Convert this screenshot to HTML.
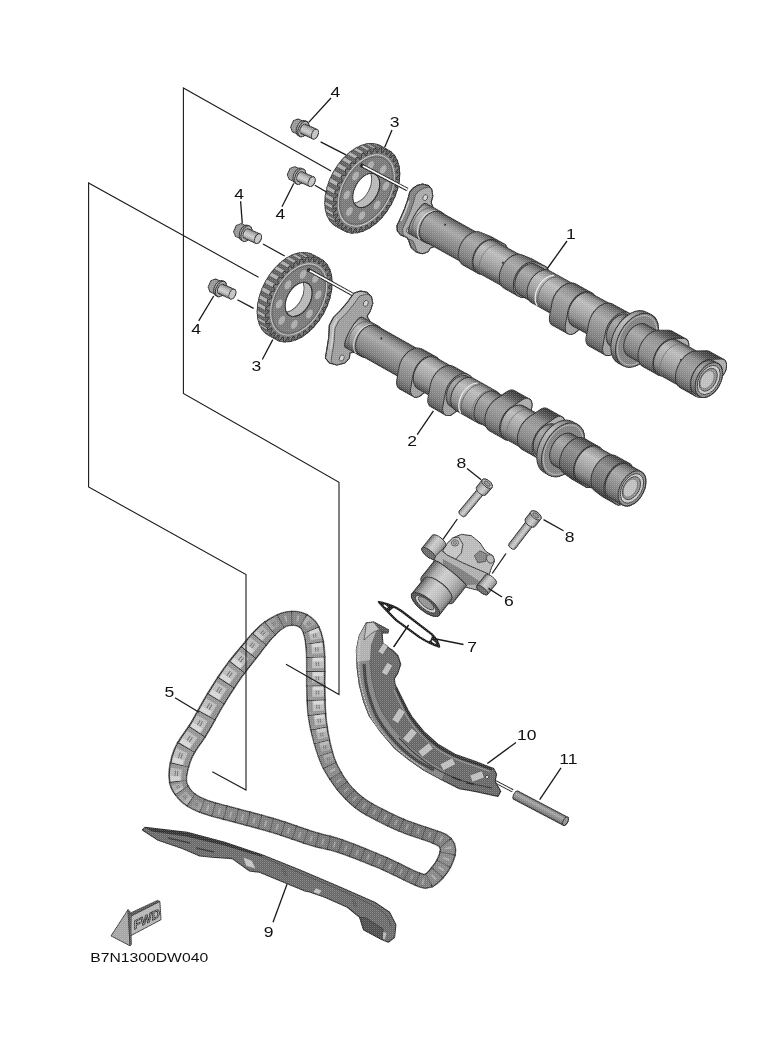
<!DOCTYPE html>
<html><head><meta charset="utf-8"><title>B7N1300DW040</title>
<style>html,body{margin:0;padding:0;background:#fff}svg{display:block}text{font-family:"Liberation Sans",sans-serif;fill:#111}</style>
</head><body>
<svg width="770" height="1064" viewBox="0 0 770 1064">
<defs>
<linearGradient id="cyl" x1="0" y1="0" x2="0" y2="1">
<stop offset="0" stop-color="#383838"/><stop offset="0.06" stop-color="#626262"/><stop offset="0.2" stop-color="#8f8f8f"/><stop offset="0.36" stop-color="#a4a4a4"/>
<stop offset="0.56" stop-color="#8f8f8f"/><stop offset="0.8" stop-color="#797979"/><stop offset="0.95" stop-color="#585858"/><stop offset="1" stop-color="#333"/>
</linearGradient>
<linearGradient id="cylL" x1="0" y1="0" x2="0" y2="1">
<stop offset="0" stop-color="#4c4c4c"/><stop offset="0.1" stop-color="#8e8e8e"/><stop offset="0.3" stop-color="#bababa"/>
<stop offset="0.55" stop-color="#a4a4a4"/><stop offset="0.8" stop-color="#848484"/><stop offset="1" stop-color="#3c3c3c"/>
</linearGradient>
<linearGradient id="cylD" x1="0" y1="0" x2="0" y2="1">
<stop offset="0" stop-color="#333"/><stop offset="0.15" stop-color="#6a6a6a"/><stop offset="0.35" stop-color="#8a8a8a"/>
<stop offset="0.6" stop-color="#777"/><stop offset="0.85" stop-color="#585858"/><stop offset="1" stop-color="#2a2a2a"/>
</linearGradient>
<linearGradient id="cylLL" x1="0" y1="0" x2="0" y2="1">
<stop offset="0" stop-color="#5a5a5a"/><stop offset="0.1" stop-color="#8e8e8e"/><stop offset="0.35" stop-color="#b8b8b8"/>
<stop offset="0.6" stop-color="#cacaca"/><stop offset="0.82" stop-color="#a5a5a5"/><stop offset="1" stop-color="#555"/>
</linearGradient>
<linearGradient id="cylT" x1="0" y1="0" x2="0" y2="1">
<stop offset="0" stop-color="#2e2e2e"/><stop offset="0.16" stop-color="#555"/><stop offset="0.3" stop-color="#8a8a8a"/>
<stop offset="0.5" stop-color="#999"/><stop offset="0.78" stop-color="#808080"/><stop offset="0.94" stop-color="#5a5a5a"/><stop offset="1" stop-color="#333"/>
</linearGradient>
<pattern id="ht" width="2" height="2" patternUnits="userSpaceOnUse"><rect width="2" height="2" fill="#000"/><rect x="0" y="0" width="1" height="1" fill="#3c3c3c"/><rect x="1" y="1" width="1" height="1" fill="#141414"/></pattern>
<pattern id="dots" width="3" height="3" patternUnits="userSpaceOnUse"><rect x="0" y="0" width="1" height="1" fill="#fff" fill-opacity="0.35"/><rect x="2" y="1" width="1" height="1" fill="#000" fill-opacity="0.12"/></pattern>
</defs>
<rect width="770" height="1064" fill="#fff"/>
<polygon points="409.7,192.1 412.9,188.2 417.5,185.3 422.7,184 428.5,185.6 431.8,189.5 432.8,196 431.1,202.5 434,210 438,245 430.5,248 427.9,251.8 422.7,253.8 416.2,252.1 411,247.3 408.8,240.8 407.1,237.5 400.6,234.9 397.3,231 396.9,225.8 399.9,219.4 404.5,209 407.7,199.9" fill="#7d7d7d" stroke="#2b2b2b" stroke-width="1" stroke-linejoin="round" />
<clipPath id="fc1"><polygon points="409.7,192.1 412.9,188.2 417.5,185.3 422.7,184 428.5,185.6 431.8,189.5 432.8,196 431.1,202.5 434,210 438,245 430.5,248 427.9,251.8 422.7,253.8 416.2,252.1 411,247.3 408.8,240.8 407.1,237.5 400.6,234.9 397.3,231 396.9,225.8 399.9,219.4 404.5,209 407.7,199.9"/></clipPath>
<g clip-path="url(#fc1)">
<polygon points="415.3,195.2 418.5,191.3 423.1,188.4 428.3,187.1 434.1,188.7 437.4,192.6 438.4,199.1 436.7,205.6 439.6,213.1 443.6,248.1 436.1,251.1 433.5,254.9 428.3,256.9 421.8,255.2 416.6,250.4 414.4,243.9 412.7,240.6 406.2,238 402.9,234.1 402.5,228.9 405.5,222.5 410.1,212.1 413.3,203" fill="#a6a6a6" stroke="#3a3a3a" stroke-width="0.8" stroke-linejoin="round" />
</g>
<polygon points="409.7,192.1 412.9,188.2 417.5,185.3 422.7,184 428.5,185.6 431.8,189.5 432.8,196 431.1,202.5 434,210 438,245 430.5,248 427.9,251.8 422.7,253.8 416.2,252.1 411,247.3 408.8,240.8 407.1,237.5 400.6,234.9 397.3,231 396.9,225.8 399.9,219.4 404.5,209 407.7,199.9" fill="none" stroke="#2b2b2b" stroke-width="1.1" stroke-linejoin="round" />
<ellipse cx="425.2" cy="197.6" rx="2.3" ry="3.2" fill="#cfcfcf" stroke="#3a3a3a" stroke-width="0.8" transform="rotate(24 425.2 197.6)"/>
<ellipse cx="409" cy="230" rx="2.3" ry="3.2" fill="#cfcfcf" stroke="#3a3a3a" stroke-width="0.8" transform="rotate(24 409 230)"/>
<path d="M401,221 L405.5,211 L409,201" stroke="#c8c8c8" stroke-width="1.6" fill="none"/>
<g transform="translate(708.8 380) rotate(29)">
<g transform="scale(1 0.882)">
<path d="M-333,-19.6 L-315,-19.6 A12.2,19.6 0 0 1 -315,19.6 L-333,19.6 A4.3,19.6 0 0 1 -333,-19.6 Z" fill="url(#cylL)" stroke="#2b2b2b" stroke-width="1" stroke-linejoin="round"/>
<path d="M-327,-17.6 A12.2,19.6 0 0 0 -327,19.6" fill="none" stroke="#555" stroke-width="0.8"/>
<path d="M-321,-17.6 A12.2,19.6 0 0 0 -321,19.6" fill="none" stroke="#d8d8d8" stroke-width="1"/>
</g>
<g transform="scale(1 0.894)">
<path d="M-316,-18.6 L-268,-18.6 A11.5,18.6 0 0 1 -268,18.6 L-316,18.6 A11.5,18.6 0 0 1 -316,-18.6 Z" fill="url(#cyl)" stroke="#2b2b2b" stroke-width="1" stroke-linejoin="round"/>
</g>
<g transform="scale(1 0.891)">
<ellipse cx="-306" cy="-9" rx="1" ry="1.2" fill="#222" stroke="none" stroke-width="0" />
</g>
<g transform="scale(1 0.905)">
<polygon points="-282.8,-0 -282.7,-2.7 -282.3,-5.3 -281.8,-7.9 -281.1,-10.3 -280.1,-12.5 -279,-14.6 -277.8,-16.3 -276.4,-17.8 -274.9,-19 -273.3,-19.9 -271.7,-20.4 -261.8,-21.7 -260.9,-21.8 -244.9,-21.8 -243.9,-21.7 -243,-21.4 -242.1,-20.9 -241.3,-20.3 -240.5,-19.4 -239.8,-18.5 -239.2,-17.3 -238.7,-16.1 -238.3,-14.7 -238,-13.3 -237.8,-11.8 -237.7,-10.3 -237.8,-8.8 -238,-7.3 -238.3,-5.9 -242.2,7.9 -242.9,10.3 -243.9,12.5 -245,14.6 -246.2,16.3 -247.6,17.8 -249.1,19 -250.7,19.9 -252.3,20.4 -254,20.6 -270,20.6 -271.7,20.4 -273.3,19.9 -274.9,19 -276.4,17.8 -277.8,16.3 -279,14.6 -280.1,12.5 -281.1,10.3 -281.8,7.9 -282.3,5.3 -282.7,2.7" fill="url(#cyl)" stroke="#2b2b2b" stroke-width="1" stroke-linejoin="round" />
<polygon points="-244.9,-21.8 -245.8,-21.7 -255.7,-20.4 -257.3,-19.9 -258.9,-19 -260.4,-17.8 -261.8,-16.3 -263,-14.6 -264.1,-12.5 -265.1,-10.3 -265.8,-7.9 -266.3,-5.3 -266.7,-2.7 -266.8,-0 -266.7,2.7 -266.3,5.3 -265.8,7.9 -265.1,10.3 -264.1,12.5 -263,14.6 -261.8,16.3 -260.4,17.8 -258.9,19 -257.3,19.9 -255.7,20.4 -254,20.6 -252.3,20.4 -250.7,19.9 -249.1,19 -247.6,17.8 -246.2,16.3 -245,14.6 -243.9,12.5 -242.9,10.3 -242.2,7.9 -238.3,-5.9 -238,-7.3 -237.8,-8.8 -237.7,-10.3 -237.8,-11.8 -238,-13.3 -238.3,-14.7 -238.7,-16.1 -239.2,-17.3 -239.8,-18.5 -240.5,-19.4 -241.3,-20.3 -242.1,-20.9 -243,-21.4 -243.9,-21.7" fill="#8d8d8d" stroke="#2b2b2b" stroke-width="1" stroke-linejoin="round" />
</g>
<g transform="scale(1 0.914)">
<path d="M-254,-19.6 L-221,-19.6 A12.2,19.6 0 0 1 -221,19.6 L-254,19.6 A12.2,19.6 0 0 1 -254,-19.6 Z" fill="url(#cylL)" stroke="#2b2b2b" stroke-width="1" stroke-linejoin="round"/>
<path d="M-250,-17.6 A12.2,19.6 0 0 0 -250,19.6" fill="none" stroke="#666" stroke-width="0.7"/>
<ellipse cx="-237" cy="-3" rx="1" ry="1.2" fill="#222" stroke="none" stroke-width="0" />
</g>
<g transform="scale(1 0.922)">
<polygon points="-235.8,-0 -235.7,-2.7 -235.3,-5.3 -234.8,-7.9 -234.1,-10.3 -233.1,-12.5 -232,-14.6 -230.8,-16.3 -229.4,-17.8 -227.9,-19 -226.3,-19.9 -224.7,-20.4 -214.8,-21.7 -213.9,-21.8 -197.9,-21.8 -196.9,-21.7 -196,-21.4 -195.1,-20.9 -194.3,-20.3 -193.5,-19.4 -192.8,-18.5 -192.2,-17.3 -191.7,-16.1 -191.3,-14.7 -191,-13.3 -190.8,-11.8 -190.7,-10.3 -190.8,-8.8 -191,-7.3 -191.3,-5.9 -195.2,7.9 -195.9,10.3 -196.9,12.5 -198,14.6 -199.2,16.3 -200.6,17.8 -202.1,19 -203.7,19.9 -205.3,20.4 -207,20.6 -223,20.6 -224.7,20.4 -226.3,19.9 -227.9,19 -229.4,17.8 -230.8,16.3 -232,14.6 -233.1,12.5 -234.1,10.3 -234.8,7.9 -235.3,5.3 -235.7,2.7" fill="url(#cyl)" stroke="#2b2b2b" stroke-width="1" stroke-linejoin="round" />
<polygon points="-197.9,-21.8 -198.8,-21.7 -208.7,-20.4 -210.3,-19.9 -211.9,-19 -213.4,-17.8 -214.8,-16.3 -216,-14.6 -217.1,-12.5 -218.1,-10.3 -218.8,-7.9 -219.3,-5.3 -219.7,-2.7 -219.8,-0 -219.7,2.7 -219.3,5.3 -218.8,7.9 -218.1,10.3 -217.1,12.5 -216,14.6 -214.8,16.3 -213.4,17.8 -211.9,19 -210.3,19.9 -208.7,20.4 -207,20.6 -205.3,20.4 -203.7,19.9 -202.1,19 -200.6,17.8 -199.2,16.3 -198,14.6 -196.9,12.5 -195.9,10.3 -195.2,7.9 -191.3,-5.9 -191,-7.3 -190.8,-8.8 -190.7,-10.3 -190.8,-11.8 -191,-13.3 -191.3,-14.7 -191.7,-16.1 -192.2,-17.3 -192.8,-18.5 -193.5,-19.4 -194.3,-20.3 -195.1,-20.9 -196,-21.4 -196.9,-21.7" fill="#8d8d8d" stroke="#2b2b2b" stroke-width="1" stroke-linejoin="round" />
</g>
<g transform="scale(1 0.927)">
<path d="M-207,-18.6 L-192,-18.6 A11.5,18.6 0 0 1 -192,18.6 L-207,18.6 A11.5,18.6 0 0 1 -207,-18.6 Z" fill="url(#cyl)" stroke="#2b2b2b" stroke-width="1" stroke-linejoin="round"/>
</g>
<g transform="scale(1 0.935)">
<path d="M-192,-19.6 L-163,-19.6 A12.2,19.6 0 0 1 -163,19.6 L-192,19.6 A12.2,19.6 0 0 1 -192,-19.6 Z" fill="url(#cylL)" stroke="#2b2b2b" stroke-width="1" stroke-linejoin="round"/>
<path d="M-186,-17.6 A12.2,19.6 0 0 0 -186,19.6" fill="none" stroke="#e8e8e8" stroke-width="1.2"/>
<path d="M-183,-17.6 A12.2,19.6 0 0 0 -183,19.6" fill="none" stroke="#555" stroke-width="0.8"/>
<path d="M-168,-17.6 A12.2,19.6 0 0 0 -168,19.6" fill="none" stroke="#666" stroke-width="0.7"/>
</g>
<g transform="scale(1 0.944)">
<polygon points="-175.8,-0 -175.7,-2.7 -175.3,-5.3 -174.8,-7.9 -174.1,-10.3 -173.1,-12.5 -172,-14.6 -170.8,-16.3 -169.4,-17.8 -167.9,-19 -166.3,-19.9 -164.7,-20.4 -163,-20.6 -145,-20.6 -143.3,-20.4 -141.7,-19.9 -140.1,-19 -138.6,-17.8 -137.2,-16.3 -136,-14.6 -134.9,-12.5 -133.9,-10.3 -133.2,-7.9 -132.7,-5.3 -132.3,-2.7 -132.2,0 -132.3,2.7 -132.7,5.3 -133.2,7.9 -133.9,10.3 -139.4,23.7 -139.9,25 -140.5,26.1 -141.2,27.1 -142,27.9 -142.9,28.6 -143.7,29.1 -144.7,29.4 -145.6,29.5 -163.6,29.5 -164.5,29.4 -165.4,29.1 -166.3,28.6 -167.1,27.9 -167.9,27.1 -168.6,26.1 -169.2,25 -169.8,23.7 -174.1,10.3 -174.8,7.9 -175.3,5.3 -175.7,2.7" fill="url(#cyl)" stroke="#2b2b2b" stroke-width="1" stroke-linejoin="round" />
<polygon points="-145,-20.6 -146.7,-20.4 -148.3,-19.9 -149.9,-19 -151.4,-17.8 -152.8,-16.3 -154,-14.6 -155.1,-12.5 -156.1,-10.3 -156.8,-7.9 -157.3,-5.3 -157.7,-2.7 -157.8,-0 -157.7,2.7 -157.3,5.3 -156.8,7.9 -156.1,10.3 -151.8,23.7 -151.2,25 -150.6,26.1 -149.9,27.1 -149.1,27.9 -148.3,28.6 -147.4,29.1 -146.5,29.4 -145.6,29.5 -144.7,29.4 -143.7,29.1 -142.9,28.6 -142,27.9 -141.2,27.1 -140.5,26.1 -139.9,25 -139.4,23.7 -133.9,10.3 -133.2,7.9 -132.7,5.3 -132.3,2.7 -132.2,0 -132.3,-2.7 -132.7,-5.3 -133.2,-7.9 -133.9,-10.3 -134.9,-12.5 -136,-14.6 -137.2,-16.3 -138.6,-17.8 -140.1,-19 -141.7,-19.9 -143.3,-20.4" fill="#9c9c9c" stroke="#2b2b2b" stroke-width="1" stroke-linejoin="round" />
</g>
<g transform="scale(1 0.952)">
<path d="M-145,-19.6 L-121,-19.6 A12.2,19.6 0 0 1 -121,19.6 L-145,19.6 A12.2,19.6 0 0 1 -145,-19.6 Z" fill="url(#cylL)" stroke="#2b2b2b" stroke-width="1" stroke-linejoin="round"/>
<ellipse cx="-133" cy="-4" rx="1" ry="1.2" fill="#222" stroke="none" stroke-width="0" />
</g>
<g transform="scale(1 0.959)">
<polygon points="-133.8,-0 -133.7,-2.7 -133.3,-5.3 -132.8,-7.9 -132.1,-10.3 -131.1,-12.5 -130,-14.6 -128.8,-16.3 -127.4,-17.8 -125.9,-19 -124.3,-19.9 -122.7,-20.4 -121,-20.6 -102,-20.6 -100.3,-20.4 -98.7,-19.9 -97.1,-19 -95.6,-17.8 -94.2,-16.3 -93,-14.6 -91.9,-12.5 -90.9,-10.3 -90.2,-7.9 -89.7,-5.3 -89.3,-2.7 -89.2,0 -89.3,2.7 -89.7,5.3 -90.2,7.9 -90.9,10.3 -96.4,23.7 -96.9,25 -97.5,26.1 -98.2,27.1 -99,27.9 -99.9,28.6 -100.7,29.1 -101.7,29.4 -102.6,29.5 -121.6,29.5 -122.5,29.4 -123.4,29.1 -124.3,28.6 -125.1,27.9 -125.9,27.1 -126.6,26.1 -127.2,25 -127.8,23.7 -132.1,10.3 -132.8,7.9 -133.3,5.3 -133.7,2.7" fill="url(#cyl)" stroke="#2b2b2b" stroke-width="1" stroke-linejoin="round" />
<polygon points="-102,-20.6 -103.7,-20.4 -105.3,-19.9 -106.9,-19 -108.4,-17.8 -109.8,-16.3 -111,-14.6 -112.1,-12.5 -113.1,-10.3 -113.8,-7.9 -114.3,-5.3 -114.7,-2.7 -114.8,-0 -114.7,2.7 -114.3,5.3 -113.8,7.9 -113.1,10.3 -108.8,23.7 -108.2,25 -107.6,26.1 -106.9,27.1 -106.1,27.9 -105.3,28.6 -104.4,29.1 -103.5,29.4 -102.6,29.5 -101.7,29.4 -100.7,29.1 -99.9,28.6 -99,27.9 -98.2,27.1 -97.5,26.1 -96.9,25 -96.4,23.7 -90.9,10.3 -90.2,7.9 -89.7,5.3 -89.3,2.7 -89.2,0 -89.3,-2.7 -89.7,-5.3 -90.2,-7.9 -90.9,-10.3 -91.9,-12.5 -93,-14.6 -94.2,-16.3 -95.6,-17.8 -97.1,-19 -98.7,-19.9 -100.3,-20.4" fill="#9c9c9c" stroke="#2b2b2b" stroke-width="1" stroke-linejoin="round" />
</g>
<g transform="scale(1 0.966)">
<path d="M-102,-18.6 L-86,-18.6 A11.5,18.6 0 0 1 -86,18.6 L-102,18.6 A11.5,18.6 0 0 1 -102,-18.6 Z" fill="url(#cyl)" stroke="#2b2b2b" stroke-width="1" stroke-linejoin="round"/>
</g>
<g transform="scale(1 0.970)">
<path d="M-87.5,-30 L-82,-30 A18.6,30 0 0 1 -82,30 L-87.5,30 A18.6,30 0 0 1 -87.5,-30 Z" fill="url(#cylL)" stroke="#2b2b2b" stroke-width="1" stroke-linejoin="round"/>
<ellipse cx="-82" cy="0" rx="18.6" ry="30" fill="#7d7d7d" stroke="#2b2b2b" stroke-width="1" />
<ellipse cx="-82" cy="0" rx="17.1" ry="27.5" fill="none" stroke="#b8b8b8" stroke-width="0.8" />
</g>
<g transform="scale(1 0.974)">
<path d="M-82,-18.6 L-62,-18.6 A11.5,18.6 0 0 1 -62,18.6 L-82,18.6 A11.5,18.6 0 0 1 -82,-18.6 Z" fill="url(#cyl)" stroke="#2b2b2b" stroke-width="1" stroke-linejoin="round"/>
</g>
<g transform="scale(1 0.980)">
<polygon points="-76.8,-0 -76.7,-2.7 -76.3,-5.3 -75.8,-7.9 -75.1,-10.3 -74.1,-12.5 -73,-14.6 -71.8,-16.3 -70.4,-17.8 -68.9,-19 -59.6,-24.4 -58.7,-24.9 -57.8,-25.2 -56.8,-25.3 -39.8,-25.3 -38.9,-25.2 -38,-24.9 -37.1,-24.4 -36.3,-23.7 -35.5,-22.9 -34.8,-21.9 -34.2,-20.8 -33.7,-19.5 -33.2,-18.2 -32.9,-16.8 -32.8,-15.3 -32.7,-13.8 -32.8,-12.3 -34.3,2.7 -34.7,5.3 -35.2,7.9 -35.9,10.3 -36.9,12.5 -38,14.6 -39.2,16.3 -40.6,17.8 -42.1,19 -43.7,19.9 -45.3,20.4 -47,20.6 -64,20.6 -65.7,20.4 -67.3,19.9 -68.9,19 -70.4,17.8 -71.8,16.3 -73,14.6 -74.1,12.5 -75.1,10.3 -75.8,7.9 -76.3,5.3 -76.7,2.7" fill="url(#cylT)" stroke="#2b2b2b" stroke-width="1" stroke-linejoin="round" />
<polygon points="-39.8,-25.3 -40.8,-25.2 -41.7,-24.9 -42.6,-24.4 -51.9,-19 -53.4,-17.8 -54.8,-16.3 -56,-14.6 -57.1,-12.5 -58.1,-10.3 -58.8,-7.9 -59.3,-5.3 -59.7,-2.7 -59.8,-0 -59.7,2.7 -59.3,5.3 -58.8,7.9 -58.1,10.3 -57.1,12.5 -56,14.6 -54.8,16.3 -53.4,17.8 -51.9,19 -50.3,19.9 -48.7,20.4 -47,20.6 -45.3,20.4 -43.7,19.9 -42.1,19 -40.6,17.8 -39.2,16.3 -38,14.6 -36.9,12.5 -35.9,10.3 -35.2,7.9 -34.7,5.3 -34.3,2.7 -32.8,-12.3 -32.7,-13.8 -32.8,-15.3 -32.9,-16.8 -33.2,-18.2 -33.7,-19.5 -34.2,-20.8 -34.8,-21.9 -35.5,-22.9 -36.3,-23.7 -37.1,-24.4 -38,-24.9 -38.9,-25.2" fill="#a8a8a8" stroke="#2b2b2b" stroke-width="1" stroke-linejoin="round" />
</g>
<g transform="scale(1 0.988)">
<path d="M-47,-19.6 L-21,-19.6 A12.2,19.6 0 0 1 -21,19.6 L-47,19.6 A12.2,19.6 0 0 1 -47,-19.6 Z" fill="url(#cylL)" stroke="#2b2b2b" stroke-width="1" stroke-linejoin="round"/>
<path d="M-43,-17.6 A12.2,19.6 0 0 0 -43,19.6" fill="none" stroke="#666" stroke-width="0.7"/>
<ellipse cx="-34" cy="-4" rx="1" ry="1.2" fill="#222" stroke="none" stroke-width="0" />
</g>
<g transform="scale(1 0.995)">
<polygon points="-33.8,-0 -33.7,-2.7 -33.3,-5.3 -32.8,-7.9 -32.1,-10.3 -31.1,-12.5 -30,-14.6 -28.8,-16.3 -27.4,-17.8 -25.9,-19 -16.6,-24.4 -15.7,-24.9 -14.8,-25.2 -13.8,-25.3 3.2,-25.3 4.1,-25.2 5,-24.9 5.9,-24.4 6.7,-23.7 7.5,-22.9 8.2,-21.9 8.8,-20.8 9.3,-19.5 9.8,-18.2 10.1,-16.8 10.2,-15.3 10.3,-13.8 10.2,-12.3 8.7,2.7 8.3,5.3 7.8,7.9 7.1,10.3 6.1,12.5 5,14.6 3.8,16.3 2.4,17.8 0.9,19 -0.7,19.9 -2.3,20.4 -4,20.6 -21,20.6 -22.7,20.4 -24.3,19.9 -25.9,19 -27.4,17.8 -28.8,16.3 -30,14.6 -31.1,12.5 -32.1,10.3 -32.8,7.9 -33.3,5.3 -33.7,2.7" fill="url(#cylT)" stroke="#2b2b2b" stroke-width="1" stroke-linejoin="round" />
<polygon points="3.2,-25.3 2.2,-25.2 1.3,-24.9 0.4,-24.4 -8.9,-19 -10.4,-17.8 -11.8,-16.3 -13,-14.6 -14.1,-12.5 -15.1,-10.3 -15.8,-7.9 -16.3,-5.3 -16.7,-2.7 -16.8,-0 -16.7,2.7 -16.3,5.3 -15.8,7.9 -15.1,10.3 -14.1,12.5 -13,14.6 -11.8,16.3 -10.4,17.8 -8.9,19 -7.3,19.9 -5.7,20.4 -4,20.6 -2.3,20.4 -0.7,19.9 0.9,19 2.4,17.8 3.8,16.3 5,14.6 6.1,12.5 7.1,10.3 7.8,7.9 8.3,5.3 8.7,2.7 10.2,-12.3 10.3,-13.8 10.2,-15.3 10.1,-16.8 9.8,-18.2 9.3,-19.5 8.8,-20.8 8.2,-21.9 7.5,-22.9 6.7,-23.7 5.9,-24.4 5,-24.9 4.1,-25.2" fill="#a8a8a8" stroke="#2b2b2b" stroke-width="1" stroke-linejoin="round" />
</g>
<g transform="scale(1 0.999)">
<path d="M-5,-19 L0,-19 A11.8,19 0 0 1 0,19 L-5,19 A11.8,19 0 0 1 -5,-19 Z" fill="url(#cyl)" stroke="#2b2b2b" stroke-width="1" stroke-linejoin="round"/>
</g>
<ellipse cx="0" cy="0" rx="11.7" ry="18.8" fill="#8a8a8a" stroke="#2b2b2b" stroke-width="1" />
<ellipse cx="0" cy="0" rx="9.8" ry="15.8" fill="#c9c9c9" stroke="#2b2b2b" stroke-width="0.8" />
<ellipse cx="-0.6" cy="0" rx="7.7" ry="12.4" fill="#8f8f8f" stroke="#2b2b2b" stroke-width="0.8" />
<ellipse cx="-1.6" cy="0.5" rx="6.1" ry="9.8" fill="#bdbdbd" stroke="#555" stroke-width="0.6" />
</g>
<polygon points="354,293 360.5,291 367,292.3 371.5,296.9 372.8,303.4 370.2,311.2 367,316.4 372,325 360,352 350,352.7 349.4,358 344.9,363 337,365 329.3,363 325.4,358 326.7,350 328.6,338.4 329.3,325.5 333.2,317.7 341,309.9 347.5,302" fill="#b0b0b0" stroke="#2b2b2b" stroke-width="1" stroke-linejoin="round" />
<clipPath id="fc2"><polygon points="354,293 360.5,291 367,292.3 371.5,296.9 372.8,303.4 370.2,311.2 367,316.4 372,325 360,352 350,352.7 349.4,358 344.9,363 337,365 329.3,363 325.4,358 326.7,350 328.6,338.4 329.3,325.5 333.2,317.7 341,309.9 347.5,302"/></clipPath>
<g clip-path="url(#fc2)">
<polygon points="359.6,296.1 366.1,294.1 372.6,295.4 377.1,300 378.4,306.5 375.8,314.3 372.6,319.5 377.6,328.1 365.6,355.1 355.6,355.8 355,361.1 350.5,366.1 342.6,368.1 334.9,366.1 331,361.1 332.3,353.1 334.2,341.5 334.9,328.6 338.8,320.8 346.6,313 353.1,305.1" fill="#9a9a9a" stroke="#3a3a3a" stroke-width="0.8" stroke-linejoin="round" />
</g>
<polygon points="354,293 360.5,291 367,292.3 371.5,296.9 372.8,303.4 370.2,311.2 367,316.4 372,325 360,352 350,352.7 349.4,358 344.9,363 337,365 329.3,363 325.4,358 326.7,350 328.6,338.4 329.3,325.5 333.2,317.7 341,309.9 347.5,302" fill="none" stroke="#2b2b2b" stroke-width="1.1" stroke-linejoin="round" />
<ellipse cx="365.8" cy="303.4" rx="2.3" ry="3.2" fill="#cfcfcf" stroke="#3a3a3a" stroke-width="0.8" transform="rotate(24 365.8 303.4)"/>
<ellipse cx="341.8" cy="358" rx="2.3" ry="3.2" fill="#cfcfcf" stroke="#3a3a3a" stroke-width="0.8" transform="rotate(24 341.8 358)"/>
<path d="M331,349 L332.5,336 L333.5,326 L337,319" stroke="#d0d0d0" stroke-width="1.4" fill="none"/>
<g transform="translate(632 488.4) rotate(29.3)">
<g transform="scale(1 0.887)">
<path d="M-319,-19.6 L-301,-19.6 A12.2,19.6 0 0 1 -301,19.6 L-319,19.6 A4.3,19.6 0 0 1 -319,-19.6 Z" fill="url(#cylL)" stroke="#2b2b2b" stroke-width="1" stroke-linejoin="round"/>
<path d="M-313,-17.6 A12.2,19.6 0 0 0 -313,19.6" fill="none" stroke="#555" stroke-width="0.8"/>
<path d="M-307,-17.6 A12.2,19.6 0 0 0 -307,19.6" fill="none" stroke="#d8d8d8" stroke-width="1"/>
</g>
<g transform="scale(1 0.900)">
<path d="M-302,-18.6 L-250,-18.6 A11.5,18.6 0 0 1 -250,18.6 L-302,18.6 A11.5,18.6 0 0 1 -302,-18.6 Z" fill="url(#cyl)" stroke="#2b2b2b" stroke-width="1" stroke-linejoin="round"/>
</g>
<g transform="scale(1 0.895)">
<ellipse cx="-292" cy="-9" rx="1" ry="1.2" fill="#222" stroke="none" stroke-width="0" />
</g>
<g transform="scale(1 0.912)">
<polygon points="-263.8,-0 -263.7,-2.7 -263.3,-5.3 -262.8,-7.9 -262.1,-10.3 -261.1,-12.5 -260,-14.6 -258.8,-16.3 -257.4,-17.8 -255.9,-19 -254.3,-19.9 -252.7,-20.4 -251,-20.6 -235,-20.6 -233.3,-20.4 -231.7,-19.9 -230.1,-19 -228.6,-17.8 -227.2,-16.3 -226,-14.6 -224.9,-12.5 -223.9,-10.3 -223.2,-7.9 -222.7,-5.3 -222.3,-2.7 -222.2,0 -222.3,2.7 -222.7,5.3 -223.2,7.9 -223.9,10.3 -229.4,23.7 -229.9,25 -230.5,26.1 -231.2,27.1 -232,27.9 -232.9,28.6 -233.7,29.1 -234.7,29.4 -235.6,29.5 -251.6,29.5 -252.5,29.4 -253.4,29.1 -254.3,28.6 -255.1,27.9 -255.9,27.1 -256.6,26.1 -257.2,25 -257.8,23.7 -262.1,10.3 -262.8,7.9 -263.3,5.3 -263.7,2.7" fill="url(#cyl)" stroke="#2b2b2b" stroke-width="1" stroke-linejoin="round" />
<polygon points="-235,-20.6 -236.7,-20.4 -238.3,-19.9 -239.9,-19 -241.4,-17.8 -242.8,-16.3 -244,-14.6 -245.1,-12.5 -246.1,-10.3 -246.8,-7.9 -247.3,-5.3 -247.7,-2.7 -247.8,-0 -247.7,2.7 -247.3,5.3 -246.8,7.9 -246.1,10.3 -241.8,23.7 -241.2,25 -240.6,26.1 -239.9,27.1 -239.1,27.9 -238.3,28.6 -237.4,29.1 -236.5,29.4 -235.6,29.5 -234.7,29.4 -233.7,29.1 -232.9,28.6 -232,27.9 -231.2,27.1 -230.5,26.1 -229.9,25 -229.4,23.7 -223.9,10.3 -223.2,7.9 -222.7,5.3 -222.3,2.7 -222.2,0 -222.3,-2.7 -222.7,-5.3 -223.2,-7.9 -223.9,-10.3 -224.9,-12.5 -226,-14.6 -227.2,-16.3 -228.6,-17.8 -230.1,-19 -231.7,-19.9 -233.3,-20.4" fill="#9c9c9c" stroke="#2b2b2b" stroke-width="1" stroke-linejoin="round" />
</g>
<g transform="scale(1 0.918)">
<path d="M-235,-19.6 L-214,-19.6 A12.2,19.6 0 0 1 -214,19.6 L-235,19.6 A12.2,19.6 0 0 1 -235,-19.6 Z" fill="url(#cylL)" stroke="#2b2b2b" stroke-width="1" stroke-linejoin="round"/>
<ellipse cx="-224" cy="-3" rx="1" ry="1.2" fill="#222" stroke="none" stroke-width="0" />
</g>
<g transform="scale(1 0.925)">
<polygon points="-227.8,-0 -227.7,-2.7 -227.3,-5.3 -226.8,-7.9 -226.1,-10.3 -225.1,-12.5 -224,-14.6 -222.8,-16.3 -221.4,-17.8 -219.9,-19 -218.3,-19.9 -216.7,-20.4 -215,-20.6 -198,-20.6 -196.3,-20.4 -194.7,-19.9 -193.1,-19 -191.6,-17.8 -190.2,-16.3 -189,-14.6 -187.9,-12.5 -186.9,-10.3 -186.2,-7.9 -185.7,-5.3 -185.3,-2.7 -185.2,0 -185.3,2.7 -185.7,5.3 -186.2,7.9 -186.9,10.3 -192.4,23.7 -192.9,25 -193.5,26.1 -194.2,27.1 -195,27.9 -195.9,28.6 -196.7,29.1 -197.7,29.4 -198.6,29.5 -215.6,29.5 -216.5,29.4 -217.4,29.1 -218.3,28.6 -219.1,27.9 -219.9,27.1 -220.6,26.1 -221.2,25 -221.8,23.7 -226.1,10.3 -226.8,7.9 -227.3,5.3 -227.7,2.7" fill="url(#cyl)" stroke="#2b2b2b" stroke-width="1" stroke-linejoin="round" />
<polygon points="-198,-20.6 -199.7,-20.4 -201.3,-19.9 -202.9,-19 -204.4,-17.8 -205.8,-16.3 -207,-14.6 -208.1,-12.5 -209.1,-10.3 -209.8,-7.9 -210.3,-5.3 -210.7,-2.7 -210.8,-0 -210.7,2.7 -210.3,5.3 -209.8,7.9 -209.1,10.3 -204.8,23.7 -204.2,25 -203.6,26.1 -202.9,27.1 -202.1,27.9 -201.3,28.6 -200.4,29.1 -199.5,29.4 -198.6,29.5 -197.7,29.4 -196.7,29.1 -195.9,28.6 -195,27.9 -194.2,27.1 -193.5,26.1 -192.9,25 -192.4,23.7 -186.9,10.3 -186.2,7.9 -185.7,5.3 -185.3,2.7 -185.2,0 -185.3,-2.7 -185.7,-5.3 -186.2,-7.9 -186.9,-10.3 -187.9,-12.5 -189,-14.6 -190.2,-16.3 -191.6,-17.8 -193.1,-19 -194.7,-19.9 -196.3,-20.4" fill="#9c9c9c" stroke="#2b2b2b" stroke-width="1" stroke-linejoin="round" />
</g>
<g transform="scale(1 0.929)">
<path d="M-198,-18.6 L-190,-18.6 A11.5,18.6 0 0 1 -190,18.6 L-198,18.6 A11.5,18.6 0 0 1 -198,-18.6 Z" fill="url(#cyl)" stroke="#2b2b2b" stroke-width="1" stroke-linejoin="round"/>
</g>
<g transform="scale(1 0.935)">
<path d="M-192,-19.6 L-166,-19.6 A12.2,19.6 0 0 1 -166,19.6 L-192,19.6 A12.2,19.6 0 0 1 -192,-19.6 Z" fill="url(#cylL)" stroke="#2b2b2b" stroke-width="1" stroke-linejoin="round"/>
<path d="M-186,-17.6 A12.2,19.6 0 0 0 -186,19.6" fill="none" stroke="#e8e8e8" stroke-width="1.2"/>
<path d="M-183,-17.6 A12.2,19.6 0 0 0 -183,19.6" fill="none" stroke="#555" stroke-width="0.8"/>
<path d="M-171,-17.6 A12.2,19.6 0 0 0 -171,19.6" fill="none" stroke="#666" stroke-width="0.7"/>
</g>
<g transform="scale(1 0.942)">
<path d="M-166,-18.6 L-151,-18.6 A11.5,18.6 0 0 1 -151,18.6 L-166,18.6 A11.5,18.6 0 0 1 -166,-18.6 Z" fill="url(#cyl)" stroke="#2b2b2b" stroke-width="1" stroke-linejoin="round"/>
</g>
<g transform="scale(1 0.948)">
<polygon points="-164.8,-0 -164.7,-2.7 -164.3,-5.3 -163.8,-7.9 -163.1,-10.3 -162.1,-12.5 -156.1,-24.8 -155.5,-26 -154.8,-26.9 -154,-27.8 -153.2,-28.4 -152.3,-28.9 -151.4,-29.2 -150.4,-29.3 -133.4,-29.3 -132.5,-29.2 -131.6,-28.9 -130.7,-28.4 -129.9,-27.8 -129.1,-26.9 -128.4,-26 -127.8,-24.8 -127.3,-23.6 -126.9,-22.2 -123.2,-7.9 -122.7,-5.3 -122.3,-2.7 -122.2,0 -122.3,2.7 -122.7,5.3 -123.2,7.9 -123.9,10.3 -124.9,12.5 -126,14.6 -127.2,16.3 -128.6,17.8 -130.1,19 -131.7,19.9 -133.3,20.4 -135,20.6 -152,20.6 -153.7,20.4 -155.3,19.9 -156.9,19 -158.4,17.8 -159.8,16.3 -161,14.6 -162.1,12.5 -163.1,10.3 -163.8,7.9 -164.3,5.3 -164.7,2.7" fill="url(#cylT)" stroke="#2b2b2b" stroke-width="1" stroke-linejoin="round" />
<polygon points="-133.4,-29.3 -134.4,-29.2 -135.3,-28.9 -136.2,-28.4 -137,-27.8 -137.8,-26.9 -138.5,-26 -139.1,-24.8 -145.1,-12.5 -146.1,-10.3 -146.8,-7.9 -147.3,-5.3 -147.7,-2.7 -147.8,-0 -147.7,2.7 -147.3,5.3 -146.8,7.9 -146.1,10.3 -145.1,12.5 -144,14.6 -142.8,16.3 -141.4,17.8 -139.9,19 -138.3,19.9 -136.7,20.4 -135,20.6 -133.3,20.4 -131.7,19.9 -130.1,19 -128.6,17.8 -127.2,16.3 -126,14.6 -124.9,12.5 -123.9,10.3 -123.2,7.9 -122.7,5.3 -122.3,2.7 -122.2,0 -122.3,-2.7 -122.7,-5.3 -123.2,-7.9 -126.9,-22.2 -127.3,-23.6 -127.8,-24.8 -128.4,-26 -129.1,-26.9 -129.9,-27.8 -130.7,-28.4 -131.6,-28.9 -132.5,-29.2" fill="#a8a8a8" stroke="#2b2b2b" stroke-width="1" stroke-linejoin="round" />
</g>
<g transform="scale(1 0.955)">
<path d="M-135,-19.6 L-114,-19.6 A12.2,19.6 0 0 1 -114,19.6 L-135,19.6 A12.2,19.6 0 0 1 -135,-19.6 Z" fill="url(#cylL)" stroke="#2b2b2b" stroke-width="1" stroke-linejoin="round"/>
<path d="M-131,-17.6 A12.2,19.6 0 0 0 -131,19.6" fill="none" stroke="#666" stroke-width="0.7"/>
<ellipse cx="-124" cy="-4" rx="1" ry="1.2" fill="#222" stroke="none" stroke-width="0" />
</g>
<g transform="scale(1 0.961)">
<polygon points="-127.3,-0 -127.2,-2.7 -126.8,-5.3 -126.3,-7.9 -125.6,-10.3 -124.6,-12.5 -118.6,-24.8 -118,-26 -117.3,-26.9 -116.5,-27.8 -115.7,-28.4 -114.8,-28.9 -113.9,-29.2 -112.9,-29.3 -95.9,-29.3 -95,-29.2 -94.1,-28.9 -93.2,-28.4 -92.4,-27.8 -91.6,-26.9 -90.9,-26 -90.3,-24.8 -89.8,-23.6 -89.4,-22.2 -85.7,-7.9 -85.2,-5.3 -84.8,-2.7 -84.7,0 -84.8,2.7 -85.2,5.3 -85.7,7.9 -86.4,10.3 -87.4,12.5 -88.5,14.6 -89.7,16.3 -91.1,17.8 -92.6,19 -94.2,19.9 -95.8,20.4 -97.5,20.6 -114.5,20.6 -116.2,20.4 -117.8,19.9 -119.4,19 -120.9,17.8 -122.3,16.3 -123.5,14.6 -124.6,12.5 -125.6,10.3 -126.3,7.9 -126.8,5.3 -127.2,2.7" fill="url(#cylT)" stroke="#2b2b2b" stroke-width="1" stroke-linejoin="round" />
<polygon points="-95.9,-29.3 -96.9,-29.2 -97.8,-28.9 -98.7,-28.4 -99.5,-27.8 -100.3,-26.9 -101,-26 -101.6,-24.8 -107.6,-12.5 -108.6,-10.3 -109.3,-7.9 -109.8,-5.3 -110.2,-2.7 -110.3,-0 -110.2,2.7 -109.8,5.3 -109.3,7.9 -108.6,10.3 -107.6,12.5 -106.5,14.6 -105.3,16.3 -103.9,17.8 -102.4,19 -100.8,19.9 -99.2,20.4 -97.5,20.6 -95.8,20.4 -94.2,19.9 -92.6,19 -91.1,17.8 -89.7,16.3 -88.5,14.6 -87.4,12.5 -86.4,10.3 -85.7,7.9 -85.2,5.3 -84.8,2.7 -84.7,0 -84.8,-2.7 -85.2,-5.3 -85.7,-7.9 -89.4,-22.2 -89.8,-23.6 -90.3,-24.8 -90.9,-26 -91.6,-26.9 -92.4,-27.8 -93.2,-28.4 -94.1,-28.9 -95,-29.2" fill="#a8a8a8" stroke="#2b2b2b" stroke-width="1" stroke-linejoin="round" />
</g>
<g transform="scale(1 0.967)">
<path d="M-98,-18.6 L-83,-18.6 A11.5,18.6 0 0 1 -83,18.6 L-98,18.6 A11.5,18.6 0 0 1 -98,-18.6 Z" fill="url(#cyl)" stroke="#2b2b2b" stroke-width="1" stroke-linejoin="round"/>
</g>
<g transform="scale(1 0.971)">
<path d="M-84.5,-30 L-79,-30 A18.6,30 0 0 1 -79,30 L-84.5,30 A18.6,30 0 0 1 -84.5,-30 Z" fill="url(#cylL)" stroke="#2b2b2b" stroke-width="1" stroke-linejoin="round"/>
<ellipse cx="-79" cy="0" rx="18.6" ry="30" fill="#7d7d7d" stroke="#2b2b2b" stroke-width="1" />
<ellipse cx="-79" cy="0" rx="17.1" ry="27.5" fill="none" stroke="#b8b8b8" stroke-width="0.8" />
</g>
<g transform="scale(1 0.974)">
<path d="M-79,-18.6 L-64,-18.6 A11.5,18.6 0 0 1 -64,18.6 L-79,18.6 A11.5,18.6 0 0 1 -79,-18.6 Z" fill="url(#cyl)" stroke="#2b2b2b" stroke-width="1" stroke-linejoin="round"/>
</g>
<g transform="scale(1 0.979)">
<polygon points="-78.8,-0 -78.7,-2.7 -78.3,-5.3 -77.8,-7.9 -77.1,-10.3 -76.1,-12.5 -75,-14.6 -73.8,-16.3 -72.4,-17.8 -70.9,-19 -69.3,-19.9 -67.7,-20.4 -66,-20.6 -50,-20.6 -48.3,-20.4 -46.7,-19.9 -45.1,-19 -43.6,-17.8 -42.2,-16.3 -41,-14.6 -39.9,-12.5 -38.9,-10.3 -38.2,-7.9 -34.3,5.9 -34,7.3 -33.8,8.8 -33.7,10.3 -33.8,11.8 -34,13.3 -34.3,14.7 -34.7,16.1 -35.2,17.3 -35.8,18.5 -36.5,19.4 -37.3,20.3 -38.1,20.9 -39,21.4 -39.9,21.7 -40.9,21.8 -56.9,21.8 -57.8,21.7 -67.7,20.4 -69.3,19.9 -70.9,19 -72.4,17.8 -73.8,16.3 -75,14.6 -76.1,12.5 -77.1,10.3 -77.8,7.9 -78.3,5.3 -78.7,2.7" fill="url(#cylD)" stroke="#2b2b2b" stroke-width="1" stroke-linejoin="round" />
<polygon points="-50,-20.6 -51.7,-20.4 -53.3,-19.9 -54.9,-19 -56.4,-17.8 -57.8,-16.3 -59,-14.6 -60.1,-12.5 -61.1,-10.3 -61.8,-7.9 -62.3,-5.3 -62.7,-2.7 -62.8,-0 -62.7,2.7 -62.3,5.3 -61.8,7.9 -61.1,10.3 -60.1,12.5 -59,14.6 -57.8,16.3 -56.4,17.8 -54.9,19 -53.3,19.9 -51.7,20.4 -41.8,21.7 -40.9,21.8 -39.9,21.7 -39,21.4 -38.1,20.9 -37.3,20.3 -36.5,19.4 -35.8,18.5 -35.2,17.3 -34.7,16.1 -34.3,14.7 -34,13.3 -33.8,11.8 -33.7,10.3 -33.8,8.8 -34,7.3 -34.3,5.9 -38.2,-7.9 -38.9,-10.3 -39.9,-12.5 -41,-14.6 -42.2,-16.3 -43.6,-17.8 -45.1,-19 -46.7,-19.9 -48.3,-20.4" fill="#6c6c6c" stroke="#2b2b2b" stroke-width="1" stroke-linejoin="round" />
</g>
<g transform="scale(1 0.986)">
<path d="M-50,-19.6 L-28,-19.6 A12.2,19.6 0 0 1 -28,19.6 L-50,19.6 A12.2,19.6 0 0 1 -50,-19.6 Z" fill="url(#cylL)" stroke="#2b2b2b" stroke-width="1" stroke-linejoin="round"/>
<ellipse cx="-38" cy="-4" rx="1" ry="1.2" fill="#222" stroke="none" stroke-width="0" />
</g>
<g transform="scale(1 0.992)">
<polygon points="-42.8,-0 -42.7,-2.7 -42.3,-5.3 -41.8,-7.9 -41.1,-10.3 -40.1,-12.5 -39,-14.6 -37.8,-16.3 -36.4,-17.8 -34.9,-19 -33.3,-19.9 -31.7,-20.4 -30,-20.6 -15,-20.6 -13.3,-20.4 -11.7,-19.9 -10.1,-19 -8.6,-17.8 -7.2,-16.3 -6,-14.6 -4.9,-12.5 -3.9,-10.3 -3.2,-7.9 0.7,5.9 1,7.3 1.2,8.8 1.3,10.3 1.2,11.8 1,13.3 0.7,14.7 0.3,16.1 -0.2,17.3 -0.8,18.5 -1.5,19.4 -2.3,20.3 -3.1,20.9 -4,21.4 -4.9,21.7 -5.9,21.8 -20.9,21.8 -21.8,21.7 -31.7,20.4 -33.3,19.9 -34.9,19 -36.4,17.8 -37.8,16.3 -39,14.6 -40.1,12.5 -41.1,10.3 -41.8,7.9 -42.3,5.3 -42.7,2.7" fill="url(#cylD)" stroke="#2b2b2b" stroke-width="1" stroke-linejoin="round" />
<polygon points="-15,-20.6 -16.7,-20.4 -18.3,-19.9 -19.9,-19 -21.4,-17.8 -22.8,-16.3 -24,-14.6 -25.1,-12.5 -26.1,-10.3 -26.8,-7.9 -27.3,-5.3 -27.7,-2.7 -27.8,-0 -27.7,2.7 -27.3,5.3 -26.8,7.9 -26.1,10.3 -25.1,12.5 -24,14.6 -22.8,16.3 -21.4,17.8 -19.9,19 -18.3,19.9 -16.7,20.4 -6.8,21.7 -5.9,21.8 -4.9,21.7 -4,21.4 -3.1,20.9 -2.3,20.3 -1.5,19.4 -0.8,18.5 -0.2,17.3 0.3,16.1 0.7,14.7 1,13.3 1.2,11.8 1.3,10.3 1.2,8.8 1,7.3 0.7,5.9 -3.2,-7.9 -3.9,-10.3 -4.9,-12.5 -6,-14.6 -7.2,-16.3 -8.6,-17.8 -10.1,-19 -11.7,-19.9 -13.3,-20.4" fill="#6c6c6c" stroke="#2b2b2b" stroke-width="1" stroke-linejoin="round" />
</g>
<g transform="scale(1 0.997)">
<path d="M-15,-19.2 L0,-19.2 A11.9,19.2 0 0 1 0,19.2 L-15,19.2 A11.9,19.2 0 0 1 -15,-19.2 Z" fill="url(#cyl)" stroke="#2b2b2b" stroke-width="1" stroke-linejoin="round"/>
</g>
<ellipse cx="0" cy="0" rx="11.8" ry="19" fill="#8a8a8a" stroke="#2b2b2b" stroke-width="1" />
<ellipse cx="0" cy="0" rx="9.9" ry="16" fill="#c9c9c9" stroke="#2b2b2b" stroke-width="0.8" />
<ellipse cx="-0.6" cy="0" rx="7.8" ry="12.5" fill="#8f8f8f" stroke="#2b2b2b" stroke-width="0.8" />
<ellipse cx="-1.6" cy="0.5" rx="6.1" ry="9.9" fill="#bdbdbd" stroke="#555" stroke-width="0.6" />
</g>
<g transform="translate(366.3 190.5) rotate(29)">
<polygon points="-37.7,0 -37.7,-1.1 -37.3,-7.4 -37.2,-8.5 -37.1,-9.5 -36,-15.6 -35.8,-16.6 -35.5,-17.6 -33.8,-23.3 -33.4,-24.2 -33.1,-25.1 -30.7,-30.2 -30.3,-31 -29.8,-31.8 -26.9,-36.1 -26.4,-36.7 -25.9,-37.3 -22.5,-40.7 -21.9,-41.2 -21.3,-41.6 -17.6,-43.9 -17,-44.2 -16.4,-44.5 -12.5,-45.7 -11.8,-45.8 -11.2,-45.9 2,-45.9 2.6,-45.8 3.3,-45.7 7.2,-44.5 7.8,-44.2 8.4,-43.9 12.1,-41.6 12.7,-41.2 13.3,-40.7 16.7,-37.3 17.2,-36.7 17.7,-36.1 20.6,-31.8 21.1,-31 21.5,-30.2 23.9,-25.1 24.2,-24.2 24.6,-23.3 26.3,-17.6 26.6,-16.6 26.8,-15.6 27.9,-9.5 28,-8.5 28.1,-7.4 28.5,-1.1 28.5,0 28.5,1.1 28.1,7.4 28,8.5 27.9,9.5 26.8,15.6 26.6,16.6 26.3,17.6 24.6,23.3 24.2,24.2 23.9,25.1 21.5,30.2 21.1,31 20.6,31.8 17.7,36.1 17.2,36.7 16.7,37.3 13.3,40.7 12.7,41.2 12.1,41.6 8.4,43.9 7.8,44.2 7.2,44.5 3.3,45.7 2.6,45.8 2,45.9 -11.2,45.9 -11.8,45.8 -12.5,45.7 -16.4,44.5 -17,44.2 -17.6,43.9 -21.3,41.6 -21.9,41.2 -22.5,40.7 -25.9,37.3 -26.4,36.7 -26.9,36.1 -29.8,31.8 -30.3,31 -30.7,30.2 -33.1,25.1 -33.4,24.2 -33.8,23.3 -35.5,17.6 -35.8,16.6 -36,15.6 -37.1,9.5 -37.2,8.5 -37.3,7.4 -37.7,1.1" fill="#5e5e5e" stroke="#2b2b2b" stroke-width="1" stroke-linejoin="round" />
<polygon points="9.2,43.6 6.4,44.8 -2.8,44.8 -0,43.6" fill="#ababab" stroke="#3a3a3a" stroke-width="0.6" stroke-linejoin="round" />
<polygon points="4,45.5 1.2,46 -8,46 -5.2,45.5" fill="#ababab" stroke="#3a3a3a" stroke-width="0.6" stroke-linejoin="round" />
<polygon points="-1.2,46 -4,45.5 -13.2,45.5 -10.4,46" fill="#ababab" stroke="#3a3a3a" stroke-width="0.6" stroke-linejoin="round" />
<polygon points="-6.4,44.8 -9.2,43.6 -18.4,43.6 -15.6,44.8" fill="#ababab" stroke="#3a3a3a" stroke-width="0.6" stroke-linejoin="round" />
<polygon points="-11.4,42.1 -14,40.1 -23.2,40.1 -20.6,42.1" fill="#ababab" stroke="#3a3a3a" stroke-width="0.6" stroke-linejoin="round" />
<polygon points="-16,38 -18.3,35.3 -27.5,35.3 -25.2,38" fill="#ababab" stroke="#3a3a3a" stroke-width="0.6" stroke-linejoin="round" />
<polygon points="-20.1,32.6 -22,29.3 -31.2,29.3 -29.3,32.6" fill="#ababab" stroke="#3a3a3a" stroke-width="0.6" stroke-linejoin="round" />
<polygon points="-23.5,26.1 -25,22.2 -34.2,22.2 -32.7,26.1" fill="#ababab" stroke="#3a3a3a" stroke-width="0.6" stroke-linejoin="round" />
<polygon points="-26,18.7 -27.1,14.5 -36.3,14.5 -35.2,18.7" fill="#ababab" stroke="#3a3a3a" stroke-width="0.6" stroke-linejoin="round" />
<polygon points="-27.7,10.7 -28.3,6.2 -37.5,6.2 -36.9,10.7" fill="#ababab" stroke="#3a3a3a" stroke-width="0.6" stroke-linejoin="round" />
<polygon points="-28.5,2.3 -28.5,-2.3 -37.7,-2.3 -37.7,2.3" fill="#ababab" stroke="#3a3a3a" stroke-width="0.6" stroke-linejoin="round" />
<polygon points="-28.3,-6.2 -27.7,-10.7 -36.9,-10.7 -37.5,-6.2" fill="#ababab" stroke="#3a3a3a" stroke-width="0.6" stroke-linejoin="round" />
<polygon points="-27.1,-14.5 -26,-18.7 -35.2,-18.7 -36.3,-14.5" fill="#ababab" stroke="#3a3a3a" stroke-width="0.6" stroke-linejoin="round" />
<polygon points="-25,-22.2 -23.5,-26.1 -32.7,-26.1 -34.2,-22.2" fill="#ababab" stroke="#3a3a3a" stroke-width="0.6" stroke-linejoin="round" />
<polygon points="-22,-29.3 -20.1,-32.6 -29.3,-32.6 -31.2,-29.3" fill="#ababab" stroke="#3a3a3a" stroke-width="0.6" stroke-linejoin="round" />
<polygon points="-18.3,-35.3 -16,-38 -25.2,-38 -27.5,-35.3" fill="#ababab" stroke="#3a3a3a" stroke-width="0.6" stroke-linejoin="round" />
<polygon points="-14,-40.1 -11.4,-42.1 -20.6,-42.1 -23.2,-40.1" fill="#ababab" stroke="#3a3a3a" stroke-width="0.6" stroke-linejoin="round" />
<polygon points="-9.2,-43.6 -6.4,-44.8 -15.6,-44.8 -18.4,-43.6" fill="#ababab" stroke="#3a3a3a" stroke-width="0.6" stroke-linejoin="round" />
<polygon points="-4,-45.5 -1.2,-46 -10.4,-46 -13.2,-45.5" fill="#ababab" stroke="#3a3a3a" stroke-width="0.6" stroke-linejoin="round" />
<polygon points="1.2,-46 4,-45.5 -5.2,-45.5 -8,-46" fill="#ababab" stroke="#3a3a3a" stroke-width="0.6" stroke-linejoin="round" />
<polygon points="6.4,-44.8 9.2,-43.6 -0,-43.6 -2.8,-44.8" fill="#ababab" stroke="#3a3a3a" stroke-width="0.6" stroke-linejoin="round" />
<polygon points="28.5,0 28.5,1.1 27,2 25.5,2.9 25.4,3.8 25.4,4.7 26.8,6 28.1,7.4 28,8.5 27.9,9.5 26.3,10 24.7,10.4 24.6,11.3 24.4,12.2 25.6,13.9 26.8,15.6 26.6,16.6 26.3,17.6 24.7,17.6 23.1,17.5 22.9,18.4 22.6,19.2 23.6,21.2 24.6,23.3 24.2,24.2 23.9,25.1 22.3,24.6 20.7,24.1 20.4,24.8 20,25.6 20.8,27.9 21.5,30.2 21.1,31 20.6,31.8 19.1,30.8 17.6,29.8 17.2,30.4 16.8,31.1 17.3,33.5 17.7,36.1 17.2,36.7 16.7,37.3 15.3,36 13.9,34.5 13.4,35 12.9,35.5 13.2,38.1 13.3,40.7 12.7,41.2 12.1,41.6 10.9,39.9 9.8,38.1 9.2,38.4 8.7,38.8 8.6,41.3 8.4,43.9 7.8,44.2 7.2,44.5 6.2,42.4 5.3,40.3 4.7,40.5 4.1,40.7 3.7,43.2 3.3,45.7 2.6,45.8 2,45.9 1.2,43.6 0.6,41.2 0,41.2 -0.6,41.2 -1.2,43.6 -2,45.9 -2.6,45.8 -3.3,45.7 -3.7,43.2 -4.1,40.7 -4.7,40.5 -5.3,40.3 -6.2,42.4 -7.2,44.5 -7.8,44.2 -8.4,43.9 -8.6,41.3 -8.7,38.8 -9.2,38.4 -9.8,38.1 -10.9,39.9 -12.1,41.6 -12.7,41.2 -13.3,40.7 -13.2,38.1 -12.9,35.5 -13.4,35 -13.9,34.5 -15.3,36 -16.7,37.3 -17.2,36.7 -17.7,36.1 -17.3,33.5 -16.8,31.1 -17.2,30.4 -17.6,29.8 -19.1,30.8 -20.6,31.8 -21.1,31 -21.5,30.2 -20.8,27.9 -20,25.6 -20.4,24.8 -20.7,24.1 -22.3,24.6 -23.9,25.1 -24.2,24.2 -24.6,23.3 -23.6,21.2 -22.6,19.2 -22.9,18.4 -23.1,17.5 -24.7,17.6 -26.3,17.6 -26.6,16.6 -26.8,15.6 -25.6,13.9 -24.4,12.2 -24.6,11.3 -24.7,10.4 -26.3,10 -27.9,9.5 -28,8.5 -28.1,7.4 -26.8,6 -25.4,4.7 -25.4,3.8 -25.5,2.9 -27,2 -28.5,1.1 -28.5,0 -28.5,-1.1 -27,-2 -25.5,-2.9 -25.4,-3.8 -25.4,-4.7 -26.8,-6 -28.1,-7.4 -28,-8.5 -27.9,-9.5 -26.3,-10 -24.7,-10.4 -24.6,-11.3 -24.4,-12.2 -25.6,-13.9 -26.8,-15.6 -26.6,-16.6 -26.3,-17.6 -24.7,-17.6 -23.1,-17.5 -22.9,-18.4 -22.6,-19.2 -23.6,-21.2 -24.6,-23.3 -24.2,-24.2 -23.9,-25.1 -22.3,-24.6 -20.7,-24.1 -20.4,-24.8 -20,-25.6 -20.8,-27.9 -21.5,-30.2 -21.1,-31 -20.6,-31.8 -19.1,-30.8 -17.6,-29.8 -17.2,-30.4 -16.8,-31.1 -17.3,-33.5 -17.7,-36.1 -17.2,-36.7 -16.7,-37.3 -15.3,-36 -13.9,-34.5 -13.4,-35 -12.9,-35.5 -13.2,-38.1 -13.3,-40.7 -12.7,-41.2 -12.1,-41.6 -10.9,-39.9 -9.8,-38.1 -9.2,-38.4 -8.7,-38.8 -8.6,-41.3 -8.4,-43.9 -7.8,-44.2 -7.2,-44.5 -6.2,-42.4 -5.3,-40.3 -4.7,-40.5 -4.1,-40.7 -3.7,-43.2 -3.3,-45.7 -2.6,-45.8 -2,-45.9 -1.2,-43.6 -0.6,-41.2 -0,-41.2 0.6,-41.2 1.2,-43.6 2,-45.9 2.6,-45.8 3.3,-45.7 3.7,-43.2 4.1,-40.7 4.7,-40.5 5.3,-40.3 6.2,-42.4 7.2,-44.5 7.8,-44.2 8.4,-43.9 8.6,-41.3 8.7,-38.8 9.2,-38.4 9.8,-38.1 10.9,-39.9 12.1,-41.6 12.7,-41.2 13.3,-40.7 13.2,-38.1 12.9,-35.5 13.4,-35 13.9,-34.5 15.3,-36 16.7,-37.3 17.2,-36.7 17.7,-36.1 17.3,-33.5 16.8,-31.1 17.2,-30.4 17.6,-29.8 19.1,-30.8 20.6,-31.8 21.1,-31 21.5,-30.2 20.8,-27.9 20,-25.6 20.4,-24.8 20.7,-24.1 22.3,-24.6 23.9,-25.1 24.2,-24.2 24.6,-23.3 23.6,-21.2 22.6,-19.2 22.9,-18.4 23.1,-17.5 24.7,-17.6 26.3,-17.6 26.6,-16.6 26.8,-15.6 25.6,-13.9 24.4,-12.2 24.6,-11.3 24.7,-10.4 26.3,-10 27.9,-9.5 28,-8.5 28.1,-7.4 26.8,-6 25.4,-4.7 25.4,-3.8 25.5,-2.9 27,-2 28.5,-1.1" fill="#727272" stroke="#2b2b2b" stroke-width="0.9" stroke-linejoin="round" />
<ellipse cx="0" cy="0" rx="23.9" ry="38.5" fill="#757575" stroke="#c8c8c8" stroke-width="0.9" />
<ellipse cx="0" cy="0" rx="22.6" ry="36.5" fill="none" stroke="#4a4a4a" stroke-width="0.6" />
<ellipse cx="16.4" cy="7.5" rx="3.2" ry="5.2" fill="#a9a9a9" stroke="#666" stroke-width="0.5" />
<ellipse cx="8.3" cy="24" rx="3.2" ry="5.2" fill="#a9a9a9" stroke="#666" stroke-width="0.5" />
<ellipse cx="-4.6" cy="26.5" rx="3.2" ry="5.2" fill="#a9a9a9" stroke="#666" stroke-width="0.5" />
<ellipse cx="-14.9" cy="13.4" rx="3.2" ry="5.2" fill="#a9a9a9" stroke="#666" stroke-width="0.5" />
<ellipse cx="-16.4" cy="-7.5" rx="3.2" ry="5.2" fill="#a9a9a9" stroke="#666" stroke-width="0.5" />
<ellipse cx="-8.3" cy="-24" rx="3.2" ry="5.2" fill="#a9a9a9" stroke="#666" stroke-width="0.5" />
<ellipse cx="4.6" cy="-26.5" rx="3.2" ry="5.2" fill="#a9a9a9" stroke="#666" stroke-width="0.5" />
<ellipse cx="14.9" cy="-13.4" rx="3.2" ry="5.2" fill="#a9a9a9" stroke="#666" stroke-width="0.5" />
<clipPath id="hc366"><ellipse cx="0" cy="0" rx="11.5" ry="18.5"/></clipPath>
<ellipse cx="0" cy="0" rx="11.5" ry="18.5" fill="#b5b5b5" stroke="#2b2b2b" stroke-width="1" />
<g clip-path="url(#hc366)">
<ellipse cx="-9.2" cy="0" rx="11.5" ry="18.5" fill="#fff" stroke="#444" stroke-width="0.9" />
</g>
<ellipse cx="0" cy="0" rx="11.5" ry="18.5" fill="none" stroke="#2b2b2b" stroke-width="1" />
</g>
<line x1="362" y1="165.6" x2="407.5" y2="189.6" stroke="#1a1a1a" stroke-width="3.7"/>
<line x1="362" y1="165.6" x2="407.5" y2="189.6" stroke="#fff" stroke-width="1.7000000000000002"/>
<g transform="translate(298.7 299.4) rotate(29)">
<polygon points="-37.7,0 -37.7,-1.1 -37.3,-7.4 -37.2,-8.5 -37.1,-9.5 -36,-15.6 -35.8,-16.6 -35.5,-17.6 -33.8,-23.3 -33.4,-24.2 -33.1,-25.1 -30.7,-30.2 -30.3,-31 -29.8,-31.8 -26.9,-36.1 -26.4,-36.7 -25.9,-37.3 -22.5,-40.7 -21.9,-41.2 -21.3,-41.6 -17.6,-43.9 -17,-44.2 -16.4,-44.5 -12.5,-45.7 -11.8,-45.8 -11.2,-45.9 2,-45.9 2.6,-45.8 3.3,-45.7 7.2,-44.5 7.8,-44.2 8.4,-43.9 12.1,-41.6 12.7,-41.2 13.3,-40.7 16.7,-37.3 17.2,-36.7 17.7,-36.1 20.6,-31.8 21.1,-31 21.5,-30.2 23.9,-25.1 24.2,-24.2 24.6,-23.3 26.3,-17.6 26.6,-16.6 26.8,-15.6 27.9,-9.5 28,-8.5 28.1,-7.4 28.5,-1.1 28.5,0 28.5,1.1 28.1,7.4 28,8.5 27.9,9.5 26.8,15.6 26.6,16.6 26.3,17.6 24.6,23.3 24.2,24.2 23.9,25.1 21.5,30.2 21.1,31 20.6,31.8 17.7,36.1 17.2,36.7 16.7,37.3 13.3,40.7 12.7,41.2 12.1,41.6 8.4,43.9 7.8,44.2 7.2,44.5 3.3,45.7 2.6,45.8 2,45.9 -11.2,45.9 -11.8,45.8 -12.5,45.7 -16.4,44.5 -17,44.2 -17.6,43.9 -21.3,41.6 -21.9,41.2 -22.5,40.7 -25.9,37.3 -26.4,36.7 -26.9,36.1 -29.8,31.8 -30.3,31 -30.7,30.2 -33.1,25.1 -33.4,24.2 -33.8,23.3 -35.5,17.6 -35.8,16.6 -36,15.6 -37.1,9.5 -37.2,8.5 -37.3,7.4 -37.7,1.1" fill="#5e5e5e" stroke="#2b2b2b" stroke-width="1" stroke-linejoin="round" />
<polygon points="9.2,43.6 6.4,44.8 -2.8,44.8 -0,43.6" fill="#ababab" stroke="#3a3a3a" stroke-width="0.6" stroke-linejoin="round" />
<polygon points="4,45.5 1.2,46 -8,46 -5.2,45.5" fill="#ababab" stroke="#3a3a3a" stroke-width="0.6" stroke-linejoin="round" />
<polygon points="-1.2,46 -4,45.5 -13.2,45.5 -10.4,46" fill="#ababab" stroke="#3a3a3a" stroke-width="0.6" stroke-linejoin="round" />
<polygon points="-6.4,44.8 -9.2,43.6 -18.4,43.6 -15.6,44.8" fill="#ababab" stroke="#3a3a3a" stroke-width="0.6" stroke-linejoin="round" />
<polygon points="-11.4,42.1 -14,40.1 -23.2,40.1 -20.6,42.1" fill="#ababab" stroke="#3a3a3a" stroke-width="0.6" stroke-linejoin="round" />
<polygon points="-16,38 -18.3,35.3 -27.5,35.3 -25.2,38" fill="#ababab" stroke="#3a3a3a" stroke-width="0.6" stroke-linejoin="round" />
<polygon points="-20.1,32.6 -22,29.3 -31.2,29.3 -29.3,32.6" fill="#ababab" stroke="#3a3a3a" stroke-width="0.6" stroke-linejoin="round" />
<polygon points="-23.5,26.1 -25,22.2 -34.2,22.2 -32.7,26.1" fill="#ababab" stroke="#3a3a3a" stroke-width="0.6" stroke-linejoin="round" />
<polygon points="-26,18.7 -27.1,14.5 -36.3,14.5 -35.2,18.7" fill="#ababab" stroke="#3a3a3a" stroke-width="0.6" stroke-linejoin="round" />
<polygon points="-27.7,10.7 -28.3,6.2 -37.5,6.2 -36.9,10.7" fill="#ababab" stroke="#3a3a3a" stroke-width="0.6" stroke-linejoin="round" />
<polygon points="-28.5,2.3 -28.5,-2.3 -37.7,-2.3 -37.7,2.3" fill="#ababab" stroke="#3a3a3a" stroke-width="0.6" stroke-linejoin="round" />
<polygon points="-28.3,-6.2 -27.7,-10.7 -36.9,-10.7 -37.5,-6.2" fill="#ababab" stroke="#3a3a3a" stroke-width="0.6" stroke-linejoin="round" />
<polygon points="-27.1,-14.5 -26,-18.7 -35.2,-18.7 -36.3,-14.5" fill="#ababab" stroke="#3a3a3a" stroke-width="0.6" stroke-linejoin="round" />
<polygon points="-25,-22.2 -23.5,-26.1 -32.7,-26.1 -34.2,-22.2" fill="#ababab" stroke="#3a3a3a" stroke-width="0.6" stroke-linejoin="round" />
<polygon points="-22,-29.3 -20.1,-32.6 -29.3,-32.6 -31.2,-29.3" fill="#ababab" stroke="#3a3a3a" stroke-width="0.6" stroke-linejoin="round" />
<polygon points="-18.3,-35.3 -16,-38 -25.2,-38 -27.5,-35.3" fill="#ababab" stroke="#3a3a3a" stroke-width="0.6" stroke-linejoin="round" />
<polygon points="-14,-40.1 -11.4,-42.1 -20.6,-42.1 -23.2,-40.1" fill="#ababab" stroke="#3a3a3a" stroke-width="0.6" stroke-linejoin="round" />
<polygon points="-9.2,-43.6 -6.4,-44.8 -15.6,-44.8 -18.4,-43.6" fill="#ababab" stroke="#3a3a3a" stroke-width="0.6" stroke-linejoin="round" />
<polygon points="-4,-45.5 -1.2,-46 -10.4,-46 -13.2,-45.5" fill="#ababab" stroke="#3a3a3a" stroke-width="0.6" stroke-linejoin="round" />
<polygon points="1.2,-46 4,-45.5 -5.2,-45.5 -8,-46" fill="#ababab" stroke="#3a3a3a" stroke-width="0.6" stroke-linejoin="round" />
<polygon points="6.4,-44.8 9.2,-43.6 -0,-43.6 -2.8,-44.8" fill="#ababab" stroke="#3a3a3a" stroke-width="0.6" stroke-linejoin="round" />
<polygon points="28.5,0 28.5,1.1 27,2 25.5,2.9 25.4,3.8 25.4,4.7 26.8,6 28.1,7.4 28,8.5 27.9,9.5 26.3,10 24.7,10.4 24.6,11.3 24.4,12.2 25.6,13.9 26.8,15.6 26.6,16.6 26.3,17.6 24.7,17.6 23.1,17.5 22.9,18.4 22.6,19.2 23.6,21.2 24.6,23.3 24.2,24.2 23.9,25.1 22.3,24.6 20.7,24.1 20.4,24.8 20,25.6 20.8,27.9 21.5,30.2 21.1,31 20.6,31.8 19.1,30.8 17.6,29.8 17.2,30.4 16.8,31.1 17.3,33.5 17.7,36.1 17.2,36.7 16.7,37.3 15.3,36 13.9,34.5 13.4,35 12.9,35.5 13.2,38.1 13.3,40.7 12.7,41.2 12.1,41.6 10.9,39.9 9.8,38.1 9.2,38.4 8.7,38.8 8.6,41.3 8.4,43.9 7.8,44.2 7.2,44.5 6.2,42.4 5.3,40.3 4.7,40.5 4.1,40.7 3.7,43.2 3.3,45.7 2.6,45.8 2,45.9 1.2,43.6 0.6,41.2 0,41.2 -0.6,41.2 -1.2,43.6 -2,45.9 -2.6,45.8 -3.3,45.7 -3.7,43.2 -4.1,40.7 -4.7,40.5 -5.3,40.3 -6.2,42.4 -7.2,44.5 -7.8,44.2 -8.4,43.9 -8.6,41.3 -8.7,38.8 -9.2,38.4 -9.8,38.1 -10.9,39.9 -12.1,41.6 -12.7,41.2 -13.3,40.7 -13.2,38.1 -12.9,35.5 -13.4,35 -13.9,34.5 -15.3,36 -16.7,37.3 -17.2,36.7 -17.7,36.1 -17.3,33.5 -16.8,31.1 -17.2,30.4 -17.6,29.8 -19.1,30.8 -20.6,31.8 -21.1,31 -21.5,30.2 -20.8,27.9 -20,25.6 -20.4,24.8 -20.7,24.1 -22.3,24.6 -23.9,25.1 -24.2,24.2 -24.6,23.3 -23.6,21.2 -22.6,19.2 -22.9,18.4 -23.1,17.5 -24.7,17.6 -26.3,17.6 -26.6,16.6 -26.8,15.6 -25.6,13.9 -24.4,12.2 -24.6,11.3 -24.7,10.4 -26.3,10 -27.9,9.5 -28,8.5 -28.1,7.4 -26.8,6 -25.4,4.7 -25.4,3.8 -25.5,2.9 -27,2 -28.5,1.1 -28.5,0 -28.5,-1.1 -27,-2 -25.5,-2.9 -25.4,-3.8 -25.4,-4.7 -26.8,-6 -28.1,-7.4 -28,-8.5 -27.9,-9.5 -26.3,-10 -24.7,-10.4 -24.6,-11.3 -24.4,-12.2 -25.6,-13.9 -26.8,-15.6 -26.6,-16.6 -26.3,-17.6 -24.7,-17.6 -23.1,-17.5 -22.9,-18.4 -22.6,-19.2 -23.6,-21.2 -24.6,-23.3 -24.2,-24.2 -23.9,-25.1 -22.3,-24.6 -20.7,-24.1 -20.4,-24.8 -20,-25.6 -20.8,-27.9 -21.5,-30.2 -21.1,-31 -20.6,-31.8 -19.1,-30.8 -17.6,-29.8 -17.2,-30.4 -16.8,-31.1 -17.3,-33.5 -17.7,-36.1 -17.2,-36.7 -16.7,-37.3 -15.3,-36 -13.9,-34.5 -13.4,-35 -12.9,-35.5 -13.2,-38.1 -13.3,-40.7 -12.7,-41.2 -12.1,-41.6 -10.9,-39.9 -9.8,-38.1 -9.2,-38.4 -8.7,-38.8 -8.6,-41.3 -8.4,-43.9 -7.8,-44.2 -7.2,-44.5 -6.2,-42.4 -5.3,-40.3 -4.7,-40.5 -4.1,-40.7 -3.7,-43.2 -3.3,-45.7 -2.6,-45.8 -2,-45.9 -1.2,-43.6 -0.6,-41.2 -0,-41.2 0.6,-41.2 1.2,-43.6 2,-45.9 2.6,-45.8 3.3,-45.7 3.7,-43.2 4.1,-40.7 4.7,-40.5 5.3,-40.3 6.2,-42.4 7.2,-44.5 7.8,-44.2 8.4,-43.9 8.6,-41.3 8.7,-38.8 9.2,-38.4 9.8,-38.1 10.9,-39.9 12.1,-41.6 12.7,-41.2 13.3,-40.7 13.2,-38.1 12.9,-35.5 13.4,-35 13.9,-34.5 15.3,-36 16.7,-37.3 17.2,-36.7 17.7,-36.1 17.3,-33.5 16.8,-31.1 17.2,-30.4 17.6,-29.8 19.1,-30.8 20.6,-31.8 21.1,-31 21.5,-30.2 20.8,-27.9 20,-25.6 20.4,-24.8 20.7,-24.1 22.3,-24.6 23.9,-25.1 24.2,-24.2 24.6,-23.3 23.6,-21.2 22.6,-19.2 22.9,-18.4 23.1,-17.5 24.7,-17.6 26.3,-17.6 26.6,-16.6 26.8,-15.6 25.6,-13.9 24.4,-12.2 24.6,-11.3 24.7,-10.4 26.3,-10 27.9,-9.5 28,-8.5 28.1,-7.4 26.8,-6 25.4,-4.7 25.4,-3.8 25.5,-2.9 27,-2 28.5,-1.1" fill="#727272" stroke="#2b2b2b" stroke-width="0.9" stroke-linejoin="round" />
<ellipse cx="0" cy="0" rx="23.9" ry="38.5" fill="#757575" stroke="#c8c8c8" stroke-width="0.9" />
<ellipse cx="0" cy="0" rx="22.6" ry="36.5" fill="none" stroke="#4a4a4a" stroke-width="0.6" />
<ellipse cx="16.4" cy="7.5" rx="3.2" ry="5.2" fill="#a9a9a9" stroke="#666" stroke-width="0.5" />
<ellipse cx="8.3" cy="24" rx="3.2" ry="5.2" fill="#a9a9a9" stroke="#666" stroke-width="0.5" />
<ellipse cx="-4.6" cy="26.5" rx="3.2" ry="5.2" fill="#a9a9a9" stroke="#666" stroke-width="0.5" />
<ellipse cx="-14.9" cy="13.4" rx="3.2" ry="5.2" fill="#a9a9a9" stroke="#666" stroke-width="0.5" />
<ellipse cx="-16.4" cy="-7.5" rx="3.2" ry="5.2" fill="#a9a9a9" stroke="#666" stroke-width="0.5" />
<ellipse cx="-8.3" cy="-24" rx="3.2" ry="5.2" fill="#a9a9a9" stroke="#666" stroke-width="0.5" />
<ellipse cx="4.6" cy="-26.5" rx="3.2" ry="5.2" fill="#a9a9a9" stroke="#666" stroke-width="0.5" />
<ellipse cx="14.9" cy="-13.4" rx="3.2" ry="5.2" fill="#a9a9a9" stroke="#666" stroke-width="0.5" />
<clipPath id="hc298"><ellipse cx="0" cy="0" rx="11.5" ry="18.5"/></clipPath>
<ellipse cx="0" cy="0" rx="11.5" ry="18.5" fill="#b5b5b5" stroke="#2b2b2b" stroke-width="1" />
<g clip-path="url(#hc298)">
<ellipse cx="-9.2" cy="0" rx="11.5" ry="18.5" fill="#fff" stroke="#444" stroke-width="0.9" />
</g>
<ellipse cx="0" cy="0" rx="11.5" ry="18.5" fill="none" stroke="#2b2b2b" stroke-width="1" />
</g>
<line x1="309" y1="270.2" x2="352.5" y2="294.3" stroke="#1a1a1a" stroke-width="3.7"/>
<line x1="309" y1="270.2" x2="352.5" y2="294.3" stroke="#fff" stroke-width="1.7000000000000002"/>
<ellipse cx="361.6" cy="165.4" rx="1.6" ry="2.2" fill="#222" stroke="none" stroke-width="0" transform="rotate(29 361.6 165.4)"/>
<ellipse cx="308.6" cy="269.8" rx="1.6" ry="2.2" fill="#222" stroke="none" stroke-width="0" transform="rotate(29 308.6 269.8)"/>
<g transform="translate(300.3 127.6) rotate(24)">
<polygon points="-9.1,-3.5 -5.5,-7 1.5,-7 5.1,-3.5 5.1,3.5 1.5,7 -5.5,7 -9.1,3.5" fill="#959595" stroke="#2b2b2b" stroke-width="0.9" stroke-linejoin="round" />
<polygon points="5.1,3.5 1.5,7 -2.1,3.5 -2.1,-3.5 1.5,-7 5.1,-3.5" fill="#a8a8a8" stroke="#2b2b2b" stroke-width="0.7" stroke-linejoin="round" />
<polygon points="-1.9,-3.5 -1.9,3.5 5.1,3.5 5.1,-3.5" fill="#bdbdbd" stroke="#444" stroke-width="0.5" stroke-linejoin="round" />
<path d="M1.5,-8.2 L3.5,-8.2 A4.9,8.2 0 0 1 3.5,8.2 L1.5,8.2 A4.9,8.2 0 0 1 1.5,-8.2 Z" fill="url(#cylL)" stroke="#2b2b2b" stroke-width="0.9" stroke-linejoin="round"/>
<ellipse cx="3.5" cy="0" rx="4.9" ry="8.2" fill="#a8a8a8" stroke="#2b2b2b" stroke-width="0.9" />
<path d="M3.5,-5.2 L16,-5.2 A3.1,5.2 0 0 1 16,5.2 L3.5,5.2 A3.1,5.2 0 0 1 3.5,-5.2 Z" fill="url(#cylLL)" stroke="#2b2b2b" stroke-width="0.9" stroke-linejoin="round"/>
<ellipse cx="16" cy="0" rx="3.1" ry="5.2" fill="#c2c2c2" stroke="#2b2b2b" stroke-width="0.9" />
</g>
<g transform="translate(297 175.2) rotate(24)">
<polygon points="-9.1,-3.5 -5.5,-7 1.5,-7 5.1,-3.5 5.1,3.5 1.5,7 -5.5,7 -9.1,3.5" fill="#959595" stroke="#2b2b2b" stroke-width="0.9" stroke-linejoin="round" />
<polygon points="5.1,3.5 1.5,7 -2.1,3.5 -2.1,-3.5 1.5,-7 5.1,-3.5" fill="#a8a8a8" stroke="#2b2b2b" stroke-width="0.7" stroke-linejoin="round" />
<polygon points="-1.9,-3.5 -1.9,3.5 5.1,3.5 5.1,-3.5" fill="#bdbdbd" stroke="#444" stroke-width="0.5" stroke-linejoin="round" />
<path d="M1.5,-8.2 L3.5,-8.2 A4.9,8.2 0 0 1 3.5,8.2 L1.5,8.2 A4.9,8.2 0 0 1 1.5,-8.2 Z" fill="url(#cylL)" stroke="#2b2b2b" stroke-width="0.9" stroke-linejoin="round"/>
<ellipse cx="3.5" cy="0" rx="4.9" ry="8.2" fill="#a8a8a8" stroke="#2b2b2b" stroke-width="0.9" />
<path d="M3.5,-5.2 L16,-5.2 A3.1,5.2 0 0 1 16,5.2 L3.5,5.2 A3.1,5.2 0 0 1 3.5,-5.2 Z" fill="url(#cylLL)" stroke="#2b2b2b" stroke-width="0.9" stroke-linejoin="round"/>
<ellipse cx="16" cy="0" rx="3.1" ry="5.2" fill="#c2c2c2" stroke="#2b2b2b" stroke-width="0.9" />
</g>
<g transform="translate(243.3 232.2) rotate(24)">
<polygon points="-9.1,-3.5 -5.5,-7 1.5,-7 5.1,-3.5 5.1,3.5 1.5,7 -5.5,7 -9.1,3.5" fill="#959595" stroke="#2b2b2b" stroke-width="0.9" stroke-linejoin="round" />
<polygon points="5.1,3.5 1.5,7 -2.1,3.5 -2.1,-3.5 1.5,-7 5.1,-3.5" fill="#a8a8a8" stroke="#2b2b2b" stroke-width="0.7" stroke-linejoin="round" />
<polygon points="-1.9,-3.5 -1.9,3.5 5.1,3.5 5.1,-3.5" fill="#bdbdbd" stroke="#444" stroke-width="0.5" stroke-linejoin="round" />
<path d="M1.5,-8.2 L3.5,-8.2 A4.9,8.2 0 0 1 3.5,8.2 L1.5,8.2 A4.9,8.2 0 0 1 1.5,-8.2 Z" fill="url(#cylL)" stroke="#2b2b2b" stroke-width="0.9" stroke-linejoin="round"/>
<ellipse cx="3.5" cy="0" rx="4.9" ry="8.2" fill="#a8a8a8" stroke="#2b2b2b" stroke-width="0.9" />
<path d="M3.5,-5.2 L16,-5.2 A3.1,5.2 0 0 1 16,5.2 L3.5,5.2 A3.1,5.2 0 0 1 3.5,-5.2 Z" fill="url(#cylLL)" stroke="#2b2b2b" stroke-width="0.9" stroke-linejoin="round"/>
<ellipse cx="16" cy="0" rx="3.1" ry="5.2" fill="#c2c2c2" stroke="#2b2b2b" stroke-width="0.9" />
</g>
<g transform="translate(217.8 287.6) rotate(24)">
<polygon points="-9.1,-3.5 -5.5,-7 1.5,-7 5.1,-3.5 5.1,3.5 1.5,7 -5.5,7 -9.1,3.5" fill="#959595" stroke="#2b2b2b" stroke-width="0.9" stroke-linejoin="round" />
<polygon points="5.1,3.5 1.5,7 -2.1,3.5 -2.1,-3.5 1.5,-7 5.1,-3.5" fill="#a8a8a8" stroke="#2b2b2b" stroke-width="0.7" stroke-linejoin="round" />
<polygon points="-1.9,-3.5 -1.9,3.5 5.1,3.5 5.1,-3.5" fill="#bdbdbd" stroke="#444" stroke-width="0.5" stroke-linejoin="round" />
<path d="M1.5,-8.2 L3.5,-8.2 A4.9,8.2 0 0 1 3.5,8.2 L1.5,8.2 A4.9,8.2 0 0 1 1.5,-8.2 Z" fill="url(#cylL)" stroke="#2b2b2b" stroke-width="0.9" stroke-linejoin="round"/>
<ellipse cx="3.5" cy="0" rx="4.9" ry="8.2" fill="#a8a8a8" stroke="#2b2b2b" stroke-width="0.9" />
<path d="M3.5,-5.2 L16,-5.2 A3.1,5.2 0 0 1 16,5.2 L3.5,5.2 A3.1,5.2 0 0 1 3.5,-5.2 Z" fill="url(#cylLL)" stroke="#2b2b2b" stroke-width="0.9" stroke-linejoin="round"/>
<ellipse cx="16" cy="0" rx="3.1" ry="5.2" fill="#c2c2c2" stroke="#2b2b2b" stroke-width="0.9" />
</g>
<g transform="translate(487.2 483.7) rotate(-50.2)">
<path d="M-39,-4 L-9,-4 A2.2,4 0 0 1 -9,4 L-39,4 A2.2,4 0 0 1 -39,-4 Z" fill="url(#cylLL)" stroke="#2b2b2b" stroke-width="0.9" stroke-linejoin="round"/>
<path d="M-9,-6.2 L0,-6.2 A3.4,6.2 0 0 1 0,6.2 L-9,6.2 A3.4,6.2 0 0 1 -9,-6.2 Z" fill="url(#cylLL)" stroke="#2b2b2b" stroke-width="0.9" stroke-linejoin="round"/>
<ellipse cx="0" cy="0" rx="3.4" ry="6.2" fill="#b8b8b8" stroke="#2b2b2b" stroke-width="0.9" />
<ellipse cx="0" cy="0" rx="2" ry="3.6" fill="#8c8c8c" stroke="#444" stroke-width="0.7" />
</g>
<g transform="translate(535.8 515.4) rotate(-52.5)">
<path d="M-39,-4 L-9,-4 A2.2,4 0 0 1 -9,4 L-39,4 A2.2,4 0 0 1 -39,-4 Z" fill="url(#cylLL)" stroke="#2b2b2b" stroke-width="0.9" stroke-linejoin="round"/>
<path d="M-9,-6.2 L0,-6.2 A3.4,6.2 0 0 1 0,6.2 L-9,6.2 A3.4,6.2 0 0 1 -9,-6.2 Z" fill="url(#cylLL)" stroke="#2b2b2b" stroke-width="0.9" stroke-linejoin="round"/>
<ellipse cx="0" cy="0" rx="3.4" ry="6.2" fill="#b8b8b8" stroke="#2b2b2b" stroke-width="0.9" />
<ellipse cx="0" cy="0" rx="2" ry="3.6" fill="#8c8c8c" stroke="#444" stroke-width="0.7" />
</g>
<polygon points="447.1,543.6 452.9,537.9 461.4,534.3 471.4,535.7 480,542.9 485.7,551.4 492.9,555.7 494.6,561.4 491.4,567.9 489.3,574.3 480,580 460,567.1 447.1,555.7" fill="#b9b9b9" stroke="#2b2b2b" stroke-width="1" stroke-linejoin="round" />
<polygon points="474.3,555.7 480,550.7 487.1,554.3 485.7,561.4 477.9,562.9" fill="#808080" stroke="#333" stroke-width="0.7" stroke-linejoin="round" />
<ellipse cx="490.3" cy="558.9" rx="3.6" ry="4.4" fill="#b5b5b5" stroke="#333" stroke-width="0.8" transform="rotate(-20 490.3 558.9)"/>
<polygon points="447.1,543.6 452.9,537.9 458.6,537.1 462.9,544.3 461.4,552.9 455.7,559.3 447.1,555.7 442.9,550.7" fill="#c2c2c2" stroke="#2b2b2b" stroke-width="0.9" stroke-linejoin="round" />
<ellipse cx="455" cy="542.9" rx="3.6" ry="3.2" fill="#c4c4c4" stroke="#333" stroke-width="0.8" />
<ellipse cx="455" cy="542.9" rx="1.8" ry="1.6" fill="#9a9a9a" stroke="#444" stroke-width="0.6" />
<g transform="translate(434 546.8) rotate(128.7)">
<path d="M-8,-8.6 L8.5,-8.6 A3.3,8.6 0 0 1 8.5,8.6 L-8,8.6 A3.3,8.6 0 0 1 -8,-8.6 Z" fill="url(#cylLL)" stroke="#2b2b2b" stroke-width="0.9" stroke-linejoin="round"/>
<ellipse cx="8.5" cy="0" rx="3.3" ry="8.6" fill="#666" stroke="#2b2b2b" stroke-width="0.9" />
</g>
<polygon points="441.4,550.3 447.1,555 462.9,562.9 488.6,574 492.9,581.4 491.4,587.1 484.3,593.6 477.1,590 466.4,587.4 433.6,561.7 435.7,555.7" fill="#acacac" stroke="#2b2b2b" stroke-width="1" stroke-linejoin="round" />
<polygon points="442.9,558.9 460,568.6 480,581.4 479.3,584.6 466.4,585.3 442.9,565.4" fill="#7a7a7a" stroke="none" stroke-width="0" stroke-linejoin="round" />
<g transform="translate(486.6 584.6) rotate(128.7)">
<path d="M-7,-7 L7,-7 A2.7,7 0 0 1 7,7 L-7,7 A2.7,7 0 0 1 -7,-7 Z" fill="url(#cylLL)" stroke="#2b2b2b" stroke-width="0.9" stroke-linejoin="round"/>
<ellipse cx="7" cy="0" rx="2.7" ry="7" fill="#666" stroke="#2b2b2b" stroke-width="0.9" />
</g>
<g transform="translate(425.5 604.5) rotate(128.7)">
<path d="M-40,-20.3 L-19,-20.3 A7.7,20.3 0 0 1 -19,20.3 L-40,20.3 A2,20.3 0 0 1 -40,-20.3 Z" fill="url(#cylLL)" stroke="#2b2b2b" stroke-width="1" stroke-linejoin="round"/>
<path d="M-20,-17.3 L0,-17.3 A6.6,17.3 0 0 1 0,17.3 L-20,17.3 A6.6,17.3 0 0 1 -20,-17.3 Z" fill="url(#cylLL)" stroke="#2b2b2b" stroke-width="1" stroke-linejoin="round"/>
<ellipse cx="0" cy="0" rx="6.6" ry="17.3" fill="#505050" stroke="#2b2b2b" stroke-width="1" />
<ellipse cx="-0.3" cy="0" rx="4.8" ry="12.6" fill="#d0d0d0" stroke="#2a2a2a" stroke-width="0.8" />
<ellipse cx="-1.4" cy="0.3" rx="3.6" ry="9.6" fill="#909090" stroke="#333" stroke-width="0.8" />
</g>
<g transform="translate(409 624.3) rotate(36.5)">
<path d="M-37.5,0 C-30,-3 -24,-6 -14,-6.2 L24,-5.6 C30,-4.6 35,-2.2 37.5,0 C31,2.6 25,3.4 16,4.1 L-12,4.3 C-20,3.4 -29,1.6 -37.5,0 Z" fill="#fff" stroke="#161616" stroke-width="2.3" stroke-linejoin="round"/>
<path d="M-37.5,0 C-30,-3 -26,-4.6 -21,-5.6 C-23,-2 -24,1 -23,3 C-28,2 -33,1 -37.5,0 Z" fill="#161616"/>
<path d="M37.5,0 C32,-2.6 29,-3.8 25,-4.8 C27,-1.6 27,1 25.5,3 C30,2.4 34,1.4 37.5,0 Z" fill="#161616"/>
<ellipse cx="-29.5" cy="-0.6" rx="2.6" ry="0.9" fill="#fff" stroke="none" stroke-width="0" />
<ellipse cx="30.5" cy="-0.4" rx="2.6" ry="0.9" fill="#fff" stroke="none" stroke-width="0" />
</g>
<polyline points="408.6,625 393.6,647" fill="none" stroke="#1a1a1a" stroke-width="1.3" />
<g transform="translate(565.5 821.2) rotate(27.7)">
<path d="M-56,-4.6 L0,-4.6 A2.3,4.6 0 0 1 0,4.6 L-56,4.6 A2.3,4.6 0 0 1 -56,-4.6 Z" fill="url(#cyl)" stroke="#2b2b2b" stroke-width="0.9" stroke-linejoin="round"/>
<ellipse cx="0" cy="0" rx="2.3" ry="4.6" fill="#8e8e8e" stroke="#2b2b2b" stroke-width="0.9" />
</g>
<line x1="485.5" y1="776.6" x2="512.8" y2="790.8" stroke="#1a1a1a" stroke-width="3.4"/>
<line x1="485.5" y1="776.6" x2="512.8" y2="790.8" stroke="#fff" stroke-width="1.4"/>
<polygon points="366.4,622.9 359.3,635.7 356.4,650 357.1,667.1 359.3,684.3 363.6,701.4 369.3,716 380,731 395,748.6 409.3,760 423.6,770 442.1,780 459.3,788.6 475,791.4 497.9,796.4 500.7,791.4 495,781.4 496.6,774.3 493.6,768.6 486.4,765.7 475,761.4 455,754.3 437.9,744.3 423.6,731.4 412.1,717.1 407.9,710 402.1,698.6 395,684.3 394.3,678.6 397.9,672.9 400.7,664.3 397.9,655.7 392.1,650 382.9,644.3 382.1,632.9 387.9,632.9 388.6,630 373.6,622.1" fill="#646464" stroke="#2b2b2b" stroke-width="1.2" stroke-linejoin="round" />
<polygon points="366.4,622.9 359.3,635.7 356.4,650 357.1,667.1 359.3,684.3 363.6,701.4 369.3,716 380,731 395,748.6 409.3,760 423.6,770 442.1,780 446,771 432,763 419,754 406,743 392,727 382,712 376,697 372,680 370,662 371,645 376,632 380,626" fill="#808080" stroke="#444" stroke-width="0.6" stroke-linejoin="round" />
<polygon points="366.4,622.9 359.3,635.7 356.4,650 357,662 370,660 371,645 376,632 380,626" fill="#adadad" stroke="none" stroke-width="0" stroke-linejoin="round" />
<path d="M364,664 C364.3,667.3 364.9,677.8 366,684 C367.1,690.2 368.6,695.3 370.5,701 C372.4,706.7 374.5,712.5 377.5,718 C380.5,723.5 384.3,728.8 388.5,734 C392.7,739.2 397.8,744.6 402.5,749 C407.2,753.4 411.8,757 417,760.5 C422.2,764 431.2,768.4 434,770" fill="none" stroke="#3e3e3e" stroke-width="3.2"/>
<path d="M359.8,640 C359.6,644.5 358.6,659.5 358.8,667 C359,674.5 360.1,679.2 361.2,685 C362.3,690.8 363.8,696.4 365.6,702 C367.4,707.6 369.1,713.2 372,718.5 C374.9,723.8 378.8,728.5 383,733.5 C387.2,738.5 392.3,744.2 397,748.5 C401.7,752.8 406.3,756.1 411,759.5 C415.7,762.9 422.7,767.4 425,769" fill="none" stroke="#d2d2d2" stroke-width="1" stroke-dasharray="2 1.2"/>
<polygon points="366.4,622.9 373.6,622.1 388.6,630 387.9,632.9 378,630 372,633 364,640" fill="#bdbdbd" stroke="#333" stroke-width="0.7" stroke-linejoin="round" />
<polygon points="373.6,622.1 388.6,630 387.9,632.9 380,630.5" fill="#555" stroke="#333" stroke-width="0.5" stroke-linejoin="round" />
<path d="M396,688 C397,690.2 399.5,696 402,701 C404.5,706 407.5,712.7 411,718 C414.5,723.3 418.6,728.3 423,733 C427.4,737.7 432.2,742.2 437.5,746 C442.8,749.8 448.8,753.1 455,756 C461.2,758.9 468.8,761 475,763.2 C481.2,765.5 489.2,768.5 492,769.5" fill="none" stroke="#2c2c2c" stroke-width="2.2"/>
<path d="M394,690 C395,692.2 397.5,698 400,703 C402.5,708 405.5,714.7 409,720 C412.5,725.3 416.6,730.3 421,735 C425.4,739.7 430.2,744.2 435.5,748 C440.8,751.8 446.8,755.1 453,758 C459.2,760.9 466.8,763.1 473,765.4 C479.2,767.6 487.2,770.5 490,771.5" fill="none" stroke="#9a9a9a" stroke-width="1"/>
<rect x="380" y="644" width="6" height="10" fill="#bcbcbc" stroke="#4a4a4a" stroke-width="0.6" transform="rotate(32 383 649)"/>
<rect x="383.8" y="663" width="6.5" height="12" fill="#bcbcbc" stroke="#4a4a4a" stroke-width="0.6" transform="rotate(30 387 669)"/>
<rect x="394.9" y="708.7" width="7.5" height="14" fill="#bcbcbc" stroke="#4a4a4a" stroke-width="0.6" transform="rotate(32 398.6 715.7)"/>
<rect x="406.2" y="728.7" width="7.5" height="14" fill="#bcbcbc" stroke="#4a4a4a" stroke-width="0.6" transform="rotate(40 410 735.7)"/>
<rect x="421.9" y="743" width="7.5" height="14" fill="#bcbcbc" stroke="#4a4a4a" stroke-width="0.6" transform="rotate(52 425.7 750)"/>
<rect x="444.1" y="757.3" width="7.5" height="14" fill="#bcbcbc" stroke="#4a4a4a" stroke-width="0.6" transform="rotate(63 447.9 764.3)"/>
<rect x="473.4" y="769.9" width="7.5" height="13" fill="#bcbcbc" stroke="#4a4a4a" stroke-width="0.6" transform="rotate(70 477.1 776.4)"/>
<path d="M399,738 C401.3,740.3 407.8,747.5 413,752 C418.2,756.5 423.8,761 430,765 C436.2,769 443.3,773 450,776 C456.7,779 463,781 470,783 C477,785 488.3,787.2 492,788" fill="none" stroke="#333" stroke-width="1.1"/>
<path d="M452,777 l9,3.4 M466,782.5 l8,2" stroke="#222" stroke-width="1.6" fill="none"/>
<ellipse cx="487" cy="777" rx="1.7" ry="1.5" fill="#f2f2f2" stroke="#222" stroke-width="0.8" />
<polygon points="142.4,830 145,827.4 187.3,832.4 224.7,842.3 262,854.8 300,870 339.9,887 374.7,902.3 389.6,912.3 395.9,924.7 394.6,937.2 388.4,942.2 382.2,939.7 363.5,929.7 359.7,917.3 347.3,907.3 324.8,897.3 309.6,892 304.9,891 274.6,878.5 259.6,872.3 249.6,871 232.2,858.6 212.2,857.3 199.8,856 182.3,848.6 157.4,839.9" fill="#676767" stroke="#2b2b2b" stroke-width="1.1" stroke-linejoin="round" />
<polygon points="145,827.4 187.3,832.4 224.7,842.3 262,854.8 262,857 224,845.5 186,836.5 152,831.5" fill="#2e2e2e" stroke="none" stroke-width="0" stroke-linejoin="round" />
<path d="M262,857 C268.3,859.7 287,867.5 300,873 C313,878.5 328,884.7 340,890 C352,895.3 364.3,900.8 372,905 C379.7,909.2 382.8,911.5 386,915 C389.2,918.5 390.2,924.2 391,926" fill="none" stroke="#444" stroke-width="0.9"/>
<polygon points="243,857 252,860.5 256,869 246,866" fill="#c2c2c2" stroke="#555" stroke-width="0.5" stroke-linejoin="round" />
<polygon points="316,888 322,890.5 319,894.5 313,892" fill="#c2c2c2" stroke="#555" stroke-width="0.5" stroke-linejoin="round" />
<polygon points="380,930 387,933 385,940 379,937" fill="#b5b5b5" stroke="#555" stroke-width="0.5" stroke-linejoin="round" />
<path d="M168,838 L190,843 M196,848 L214,852" stroke="#333" stroke-width="1.3" fill="none"/>
<polygon points="363.5,929.7 359.7,917.3 366,918 383,929 382.2,939.7" fill="#4a4a4a" stroke="#222" stroke-width="0.7" stroke-linejoin="round" />
<path d="M282,868 l3,8 M284,868 l3,8 M352,899 l3,8 M354,899 l3,8" stroke="#444" stroke-width="0.7"/>
<polygon points="169.4,783.3 168.6,775.7 169,768.8 170.1,762.3 189,766.9 187.7,771.8 186.9,776.4 186.7,780.5" fill="#2c2c2c" stroke="#2c2c2c" stroke-width="0.6" stroke-linejoin="round" />
<polygon points="169.9,763.2 171.6,756.1 174.1,748.9 177.6,741.9 195.1,752.4 192.6,757.1 190.5,762.1 188.8,767.6" fill="#2c2c2c" stroke="#2c2c2c" stroke-width="0.6" stroke-linejoin="round" />
<polygon points="177.1,742.8 181.1,736.5 185,731 188.6,725.8 205.6,737 201.7,742.8 197.9,748.1 194.8,752.9" fill="#2c2c2c" stroke="#2c2c2c" stroke-width="0.6" stroke-linejoin="round" />
<polygon points="188.2,726.4 191.4,721.3 194.5,715.8 197.7,710.1 215.5,719.8 212.3,725.7 208.9,731.6 205.1,737.7" fill="#2c2c2c" stroke="#2c2c2c" stroke-width="0.6" stroke-linejoin="round" />
<polygon points="197.3,710.8 200.5,704.9 203.9,699 207.4,693.2 224.7,703.8 221.4,709.3 218.3,714.8 215.1,720.5" fill="#2c2c2c" stroke="#2c2c2c" stroke-width="0.6" stroke-linejoin="round" />
<polygon points="206.9,693.9 210.4,688.2 214,682.5 217.7,676.8 234.7,687.9 231.2,693.4 227.7,698.9 224.3,704.5" fill="#2c2c2c" stroke="#2c2c2c" stroke-width="0.6" stroke-linejoin="round" />
<polygon points="217.2,677.5 221,671.8 225,666.2 229.1,660.7 245.2,673 241.4,678.1 237.8,683.3 234.3,688.6" fill="#2c2c2c" stroke="#2c2c2c" stroke-width="0.6" stroke-linejoin="round" />
<polygon points="228.6,661.3 232.7,656.1 236.9,651.1 241,646.2 256.4,658.6 252.4,663.7 248.5,668.7 244.7,673.6" fill="#2c2c2c" stroke="#2c2c2c" stroke-width="0.6" stroke-linejoin="round" />
<polygon points="240.5,646.8 244.3,642.2 248.2,637.6 252.3,632.9 266.8,645.1 263.2,649.7 259.7,654.4 255.9,659.2" fill="#2c2c2c" stroke="#2c2c2c" stroke-width="0.6" stroke-linejoin="round" />
<polygon points="251.8,633.5 255.7,629.3 260,625.2 264.7,621.6 275.7,634.9 272.5,638.3 269.4,641.9 266.3,645.7" fill="#2c2c2c" stroke="#2c2c2c" stroke-width="0.6" stroke-linejoin="round" />
<polygon points="264,622.1 268.2,619.3 272.7,616.7 277.5,614.4 284.2,627.8 281.1,630 278.1,632.6 275.2,635.4" fill="#2c2c2c" stroke="#2c2c2c" stroke-width="0.6" stroke-linejoin="round" />
<polygon points="276.6,614.8 281.5,612.8 286.8,611.5 292.1,611.1 292.3,625.5 289.3,625.8 286.4,626.6 283.7,628.1" fill="#2c2c2c" stroke="#2c2c2c" stroke-width="0.6" stroke-linejoin="round" />
<polygon points="291.1,611.1 296.5,611.2 302.1,612.3 307.7,614.6 299.7,627.6 297.5,626.4 294.8,625.6 291.7,625.5" fill="#2c2c2c" stroke="#2c2c2c" stroke-width="0.6" stroke-linejoin="round" />
<polygon points="306.6,614 311.8,617.4 316.3,621.8 319.4,627 303.3,633.7 302.4,631.2 301.2,629.1 299.3,627.4" fill="#2c2c2c" stroke="#2c2c2c" stroke-width="0.6" stroke-linejoin="round" />
<polygon points="319,626.1 321.2,631.5 322.7,636.8 323.8,642 305.5,644.6 304.9,640.5 304.1,636.6 303.2,633.2" fill="#2c2c2c" stroke="#2c2c2c" stroke-width="0.6" stroke-linejoin="round" />
<polygon points="323.6,641.1 324.4,646.5 324.9,651.9 325.1,657.2 306.3,657.7 306.2,653 305.8,648.4 305.4,643.8" fill="#2c2c2c" stroke="#2c2c2c" stroke-width="0.6" stroke-linejoin="round" />
<polygon points="325.1,656.4 325.2,661.6 325.2,666.8 325.2,671.9 306.4,671.8 306.4,666.8 306.4,661.8 306.3,656.9" fill="#2c2c2c" stroke="#2c2c2c" stroke-width="0.6" stroke-linejoin="round" />
<polygon points="325.2,671.1 325.2,676.2 325.1,681.2 325.1,686.1 306.4,686.3 306.3,681.1 306.4,676 306.4,671" fill="#2c2c2c" stroke="#2c2c2c" stroke-width="0.6" stroke-linejoin="round" />
<polygon points="325.1,685.3 325.2,690.2 325.3,695.2 325.4,700.2 306.8,700.8 306.6,695.7 306.5,690.6 306.4,685.4" fill="#2c2c2c" stroke="#2c2c2c" stroke-width="0.6" stroke-linejoin="round" />
<polygon points="325.4,699.4 325.5,704.3 325.7,709.1 326.1,713.8 308,715.8 307.4,710.5 307,705.2 306.7,700" fill="#2c2c2c" stroke="#2c2c2c" stroke-width="0.6" stroke-linejoin="round" />
<polygon points="326,713.1 326.4,717.8 326.9,722.5 327.6,727.2 310.6,730.4 309.5,725.3 308.6,720.1 307.9,715" fill="#2c2c2c" stroke="#2c2c2c" stroke-width="0.6" stroke-linejoin="round" />
<polygon points="327.5,726.5 328.2,731 329,735.6 329.9,740.2 314.1,744.1 312.8,739.3 311.5,734.5 310.4,729.6" fill="#2c2c2c" stroke="#2c2c2c" stroke-width="0.6" stroke-linejoin="round" />
<polygon points="329.7,739.4 330.7,743.7 331.7,747.9 332.8,752.1 318.2,756.8 316.6,752.3 315.2,747.8 313.9,743.3" fill="#2c2c2c" stroke="#2c2c2c" stroke-width="0.6" stroke-linejoin="round" />
<polygon points="332.6,751.4 333.7,755.2 335,758.9 336.4,762.5 323.2,768.8 321.2,764.5 319.4,760.3 317.9,756" fill="#2c2c2c" stroke="#2c2c2c" stroke-width="0.6" stroke-linejoin="round" />
<polygon points="336.1,761.8 337.7,765.3 339.5,768.8 341.5,772.4 329.7,779.7 327.4,776 325,772.1 322.8,768" fill="#2c2c2c" stroke="#2c2c2c" stroke-width="0.6" stroke-linejoin="round" />
<polygon points="341.2,771.8 343.2,775.2 345.4,778.6 347.8,781.8 337.1,790.1 334.4,786.4 331.8,782.7 329.3,779" fill="#2c2c2c" stroke="#2c2c2c" stroke-width="0.6" stroke-linejoin="round" />
<polygon points="347.3,781.2 349.7,784.4 352.3,787.4 355.1,790.3 345.6,799.7 342.5,796.3 339.5,792.9 336.6,789.4" fill="#2c2c2c" stroke="#2c2c2c" stroke-width="0.6" stroke-linejoin="round" />
<polygon points="354.6,789.7 357.4,792.5 360.3,795.1 363.4,797.5 355.3,808.2 351.7,805.3 348.3,802.3 345,799" fill="#2c2c2c" stroke="#2c2c2c" stroke-width="0.6" stroke-linejoin="round" />
<polygon points="362.8,797.1 366,799.4 369.2,801.5 372.7,803.6 366.1,815.2 362.2,812.9 358.3,810.4 354.6,807.6" fill="#2c2c2c" stroke="#2c2c2c" stroke-width="0.6" stroke-linejoin="round" />
<polygon points="372,803.2 375.6,805.2 379.3,807.2 383,809.1 377,821 373.1,819 369.3,817 365.4,814.8" fill="#2c2c2c" stroke="#2c2c2c" stroke-width="0.6" stroke-linejoin="round" />
<polygon points="382.3,808.7 386.1,810.6 389.8,812.5 393.6,814.3 387.9,826.4 384,824.5 380.1,822.6 376.2,820.6" fill="#2c2c2c" stroke="#2c2c2c" stroke-width="0.6" stroke-linejoin="round" />
<polygon points="392.9,814 396.7,815.8 400.5,817.5 404.3,819.1 399.1,831.4 395.1,829.7 391.1,827.9 387.2,826" fill="#2c2c2c" stroke="#2c2c2c" stroke-width="0.6" stroke-linejoin="round" />
<polygon points="403.6,818.8 407.3,820.4 411.2,821.8 415.1,823.2 410.7,835.8 406.6,834.4 402.5,832.8 398.3,831.1" fill="#2c2c2c" stroke="#2c2c2c" stroke-width="0.6" stroke-linejoin="round" />
<polygon points="414.4,823 418.3,824.3 422.3,825.7 426.4,827 422.2,839.6 418.2,838.3 414.1,836.9 410,835.5" fill="#2c2c2c" stroke="#2c2c2c" stroke-width="0.6" stroke-linejoin="round" />
<polygon points="425.6,826.8 429.7,828.1 434,829.6 438,831 433.2,843.7 429.3,842.1 425.4,840.7 421.5,839.4" fill="#2c2c2c" stroke="#2c2c2c" stroke-width="0.6" stroke-linejoin="round" />
<polygon points="437.2,830.7 441.5,832.1 446.8,834.4 451.9,838.7 439.8,848.1 438.6,846.6 436.2,845.1 432.5,843.4" fill="#2c2c2c" stroke="#2c2c2c" stroke-width="0.6" stroke-linejoin="round" />
<polygon points="451,837.7 454.8,843.5 456,850 455.3,855.8 439.6,852.1 440,850 440,848.8 439.7,847.9" fill="#2c2c2c" stroke="#2c2c2c" stroke-width="0.6" stroke-linejoin="round" />
<polygon points="455.6,854.8 454.2,859.5 452.5,863.8 450.5,868 436.4,860.3 437.8,857.4 439,854.4 439.7,851.6" fill="#2c2c2c" stroke="#2c2c2c" stroke-width="0.6" stroke-linejoin="round" />
<polygon points="450.9,867.1 448.7,871.1 446,874.9 443.1,878.3 431.1,867.7 433.2,865.1 435.1,862.5 436.7,859.7" fill="#2c2c2c" stroke="#2c2c2c" stroke-width="0.6" stroke-linejoin="round" />
<polygon points="443.7,877.7 440.7,880.9 437,884.2 431.8,887.4 425.4,873.7 427,872.4 429.2,870 431.6,867.1" fill="#2c2c2c" stroke="#2c2c2c" stroke-width="0.6" stroke-linejoin="round" />
<polygon points="433.1,886.8 425.4,888.7 418.7,887 414.6,885.2 419.6,872.7 423.4,874 425.1,874 425.6,873.6" fill="#2c2c2c" stroke="#2c2c2c" stroke-width="0.6" stroke-linejoin="round" />
<polygon points="415.3,885.5 411.2,883.7 407.1,881.8 403.2,879.9 409.1,868 412.9,869.9 416.5,871.5 420.3,873" fill="#2c2c2c" stroke="#2c2c2c" stroke-width="0.6" stroke-linejoin="round" />
<polygon points="404,880.3 400.1,878.4 396.3,876.5 392.5,874.7 398.2,862.6 402.2,864.6 406,866.5 409.8,868.4" fill="#2c2c2c" stroke="#2c2c2c" stroke-width="0.6" stroke-linejoin="round" />
<polygon points="393.2,875.1 389.4,873.2 385.5,871.4 381.8,869.7 387.3,857.5 391.3,859.3 395.1,861.2 399,863" fill="#2c2c2c" stroke="#2c2c2c" stroke-width="0.6" stroke-linejoin="round" />
<polygon points="382.5,870 378.7,868.3 374.9,866.7 370.9,865.2 376,852.7 380,854.4 384,856.1 388,857.8" fill="#2c2c2c" stroke="#2c2c2c" stroke-width="0.6" stroke-linejoin="round" />
<polygon points="371.7,865.4 367.7,863.9 363.8,862.3 359.8,860.8 364.9,848.1 368.8,849.8 372.8,851.4 376.7,853" fill="#2c2c2c" stroke="#2c2c2c" stroke-width="0.6" stroke-linejoin="round" />
<polygon points="360.6,861 356.6,859.5 352.7,858 348.7,856.5 353.6,843.7 357.6,845.2 361.6,846.8 365.6,848.5" fill="#2c2c2c" stroke="#2c2c2c" stroke-width="0.6" stroke-linejoin="round" />
<polygon points="349.5,856.8 345.5,855.3 341.6,853.9 337.7,852.6 342.1,839.4 346.2,840.9 350.3,842.4 354.4,844" fill="#2c2c2c" stroke="#2c2c2c" stroke-width="0.6" stroke-linejoin="round" />
<polygon points="338.4,852.8 334.5,851.6 330.7,850.5 326.7,849.6 330,835.8 334.3,837 338.6,838.3 342.9,839.7" fill="#2c2c2c" stroke="#2c2c2c" stroke-width="0.6" stroke-linejoin="round" />
<polygon points="327.4,849.7 323.4,848.8 319.1,847.9 314.8,846.8 318.6,832.9 322.5,834 326.6,835 330.8,836" fill="#2c2c2c" stroke="#2c2c2c" stroke-width="0.6" stroke-linejoin="round" />
<polygon points="315.6,847 311.3,845.8 307.1,844.5 302.9,843.2 307.5,829.4 311.5,830.8 315.4,832 319.3,833.1" fill="#2c2c2c" stroke="#2c2c2c" stroke-width="0.6" stroke-linejoin="round" />
<polygon points="303.7,843.4 299.6,842 295.5,840.6 291.5,839.2 296.3,825.6 300.3,827 304.3,828.3 308.3,829.7" fill="#2c2c2c" stroke="#2c2c2c" stroke-width="0.6" stroke-linejoin="round" />
<polygon points="292.3,839.5 288.2,838.1 284.2,836.7 280.3,835.4 284.8,821.6 288.9,823 293,824.4 297,825.8" fill="#2c2c2c" stroke="#2c2c2c" stroke-width="0.6" stroke-linejoin="round" />
<polygon points="281,835.6 277,834.3 273.1,833.1 269.1,831.9 273.1,818 277.3,819.2 281.5,820.6 285.6,821.9" fill="#2c2c2c" stroke="#2c2c2c" stroke-width="0.6" stroke-linejoin="round" />
<polygon points="269.8,832.1 265.8,830.9 261.7,829.8 257.6,828.7 261.4,814.7 265.6,815.9 269.7,817 273.9,818.2" fill="#2c2c2c" stroke="#2c2c2c" stroke-width="0.6" stroke-linejoin="round" />
<polygon points="258.4,828.9 254.3,827.8 250.2,826.7 246.1,825.6 249.8,811.6 253.9,812.7 258,813.8 262.2,814.9" fill="#2c2c2c" stroke="#2c2c2c" stroke-width="0.6" stroke-linejoin="round" />
<polygon points="246.9,825.8 242.7,824.7 238.6,823.6 234.4,822.5 238.2,808.6 242.3,809.7 246.4,810.8 250.5,811.8" fill="#2c2c2c" stroke="#2c2c2c" stroke-width="0.6" stroke-linejoin="round" />
<polygon points="235.2,822.7 231.1,821.6 227,820.6 222.9,819.5 226.5,805.5 230.7,806.6 234.8,807.7 239,808.8" fill="#2c2c2c" stroke="#2c2c2c" stroke-width="0.6" stroke-linejoin="round" />
<polygon points="223.7,819.7 219.6,818.6 215.4,817.5 211.2,816.3 215.2,802.5 219.2,803.6 223.2,804.7 227.3,805.7" fill="#2c2c2c" stroke="#2c2c2c" stroke-width="0.6" stroke-linejoin="round" />
<polygon points="212,816.6 207.8,815.3 203.4,813.9 199.2,812.3 204.6,798.9 208.2,800.3 212,801.5 215.9,802.7" fill="#2c2c2c" stroke="#2c2c2c" stroke-width="0.6" stroke-linejoin="round" />
<polygon points="200,812.7 195.5,810.8 190.9,808.6 186.6,806.1 194.9,793.6 198.2,795.7 201.6,797.5 205.2,799.1" fill="#2c2c2c" stroke="#2c2c2c" stroke-width="0.6" stroke-linejoin="round" />
<polygon points="187.4,806.6 182.6,803.2 178.2,798.9 174.8,794.6 188.3,785.6 190.5,789.1 192.7,791.7 195.5,794" fill="#2c2c2c" stroke="#2c2c2c" stroke-width="0.6" stroke-linejoin="round" />
<polygon points="175.3,795.4 172.8,791.8 170.5,787.2 169.2,782.2 186.7,780 186.9,781.9 187.4,783.8 188.7,786.2" fill="#2c2c2c" stroke="#2c2c2c" stroke-width="0.6" stroke-linejoin="round" />
<polygon points="170.3,781.8 169.8,775.4 170.2,769.4 171.1,763.7 187.5,767.5 186.4,771.9 185.8,776.1 185.6,780" fill="#b4b4b4" stroke="none" stroke-width="0" stroke-linejoin="round" />
<polygon points="181.4,780.5 181.4,775.9 182,771.2 183,766.5 187.5,767.5 186.4,771.9 185.8,776.1 185.6,780" fill="#8a8a8a" stroke="none" stroke-width="0" stroke-linejoin="round" />
<polygon points="170.5,767.4 170.8,765.3 171.2,763.4 187.6,767.2 187.2,768.9 186.8,770.4" fill="#8f8f8f" stroke="none" stroke-width="0" stroke-linejoin="round" />
<polygon points="170.9,781.4 170.6,778.7 170.5,776.1 180.3,776.4 180.3,778.4 180.4,780.4" fill="#cecece" stroke="none" stroke-width="0" stroke-linejoin="round" />
<polygon points="174.5,775.9 174.7,773.2 174.9,770.5 176,770.7 175.7,773.3 175.5,775.9" fill="#6f6f6f" stroke="none" stroke-width="0" stroke-linejoin="round" />
<polygon points="176.8,776 177,773.4 177.3,770.9 178.3,771.1 178,773.5 177.9,776" fill="#6f6f6f" stroke="none" stroke-width="0" stroke-linejoin="round" />
<polygon points="171.4,762.4 173,756.1 175.2,749.8 178.1,743.7 193.5,752.4 191.3,756.8 189.4,761.4 187.8,766.4" fill="#bababa" stroke="none" stroke-width="0" stroke-linejoin="round" />
<polygon points="183.3,765.3 184.9,760 186.9,754.9 189.3,750 193.5,752.4 191.3,756.8 189.4,761.4 187.8,766.4" fill="#8c8c8c" stroke="none" stroke-width="0" stroke-linejoin="round" />
<polygon points="176.1,747.7 177.1,745.6 178.3,743.4 193.6,752.3 192.8,753.7 192,755.3" fill="#929292" stroke="none" stroke-width="0" stroke-linejoin="round" />
<polygon points="172.2,762.2 172.8,759.6 173.5,757 183.6,760.2 182.9,762.4 182.3,764.7" fill="#d6d6d6" stroke="none" stroke-width="0" stroke-linejoin="round" />
<polygon points="177.7,757.9 178.7,755.1 179.8,752.3 180.8,752.8 179.7,755.5 178.8,758.3" fill="#6f6f6f" stroke="none" stroke-width="0" stroke-linejoin="round" />
<polygon points="180.1,758.7 181,756 182.1,753.3 183.1,753.8 182.1,756.4 181.2,759" fill="#6f6f6f" stroke="none" stroke-width="0" stroke-linejoin="round" />
<polygon points="178.9,742.4 182.4,737 185.9,732 189.2,727.4 203.9,737.2 200.4,742.3 197,747 194.1,751.5" fill="#bababa" stroke="none" stroke-width="0" stroke-linejoin="round" />
<polygon points="189.9,749 193,744.3 196.4,739.5 199.8,734.5 203.9,737.2 200.4,742.3 197,747 194.1,751.5" fill="#8c8c8c" stroke="none" stroke-width="0" stroke-linejoin="round" />
<polygon points="187,730.5 188.2,728.8 189.3,727.2 204,737 202.8,738.8 201.5,740.6" fill="#929292" stroke="none" stroke-width="0" stroke-linejoin="round" />
<polygon points="179.7,742.5 181.2,740.2 182.7,738 191.7,744.2 190.4,746.2 189.1,748.2" fill="#d6d6d6" stroke="none" stroke-width="0" stroke-linejoin="round" />
<polygon points="186.6,740.2 188.3,737.8 189.9,735.5 190.8,736.1 189.2,738.5 187.5,740.8" fill="#6f6f6f" stroke="none" stroke-width="0" stroke-linejoin="round" />
<polygon points="188.7,741.6 190.4,739.3 192,736.9 192.9,737.6 191.3,739.9 189.7,742.3" fill="#6f6f6f" stroke="none" stroke-width="0" stroke-linejoin="round" />
<polygon points="189.8,726.4 192.7,721.7 195.5,716.8 198.3,711.6 213.8,720.1 211,725.3 207.9,730.6 204.6,736" fill="#bababa" stroke="none" stroke-width="0" stroke-linejoin="round" />
<polygon points="200.6,733.4 203.8,728.2 206.7,723 209.6,717.8 213.8,720.1 211,725.3 207.9,730.6 204.6,736" fill="#8c8c8c" stroke="none" stroke-width="0" stroke-linejoin="round" />
<polygon points="196.5,715.1 197.5,713.2 198.5,711.4 214,719.9 213,721.7 211.9,723.6" fill="#929292" stroke="none" stroke-width="0" stroke-linejoin="round" />
<polygon points="190.6,726.6 191.8,724.6 193,722.6 202.4,728.2 201.1,730.4 199.8,732.5" fill="#d6d6d6" stroke="none" stroke-width="0" stroke-linejoin="round" />
<polygon points="197.1,724.6 198.5,722.2 199.8,719.7 200.8,720.3 199.5,722.7 198.1,725.2" fill="#6f6f6f" stroke="none" stroke-width="0" stroke-linejoin="round" />
<polygon points="199.3,725.9 200.7,723.4 202.1,721 203.1,721.5 201.7,724 200.3,726.5" fill="#6f6f6f" stroke="none" stroke-width="0" stroke-linejoin="round" />
<polygon points="198.9,710.5 201.8,705.3 204.8,700 207.9,694.8 223.1,704 220.1,708.9 217.3,713.9 214.5,719" fill="#bababa" stroke="none" stroke-width="0" stroke-linejoin="round" />
<polygon points="210.2,716.7 213,711.5 215.9,706.5 218.9,701.5 223.1,704 220.1,708.9 217.3,713.9 214.5,719" fill="#8c8c8c" stroke="none" stroke-width="0" stroke-linejoin="round" />
<polygon points="205.9,698.2 207,696.4 208.1,694.6 223.2,703.7 222.1,705.5 221.1,707.3" fill="#929292" stroke="none" stroke-width="0" stroke-linejoin="round" />
<polygon points="199.8,710.6 201,708.4 202.2,706.2 211.7,711.5 210.5,713.7 209.3,715.8" fill="#d6d6d6" stroke="none" stroke-width="0" stroke-linejoin="round" />
<polygon points="206.3,708.1 207.7,705.5 209.1,703 210.1,703.6 208.7,706.1 207.3,708.6" fill="#6f6f6f" stroke="none" stroke-width="0" stroke-linejoin="round" />
<polygon points="208.5,709.3 209.9,706.8 211.3,704.3 212.3,704.9 210.9,707.4 209.5,709.9" fill="#6f6f6f" stroke="none" stroke-width="0" stroke-linejoin="round" />
<polygon points="208.6,693.7 211.8,688.6 214.9,683.5 218.2,678.4 233,688.1 229.9,693 226.8,697.9 223.7,702.9" fill="#bababa" stroke="none" stroke-width="0" stroke-linejoin="round" />
<polygon points="219.6,700.4 222.7,695.3 225.8,690.4 229,685.4 233,688.1 229.9,693 226.8,697.9 223.7,702.9" fill="#8c8c8c" stroke="none" stroke-width="0" stroke-linejoin="round" />
<polygon points="216,681.8 217.2,680 218.3,678.2 233.2,687.9 232.1,689.6 230.9,691.3" fill="#929292" stroke="none" stroke-width="0" stroke-linejoin="round" />
<polygon points="209.4,693.8 210.7,691.7 212.1,689.5 221.4,695.3 220.1,697.4 218.8,699.5" fill="#d6d6d6" stroke="none" stroke-width="0" stroke-linejoin="round" />
<polygon points="216.1,691.6 217.6,689.1 219.1,686.7 220.1,687.3 218.5,689.7 217,692.2" fill="#6f6f6f" stroke="none" stroke-width="0" stroke-linejoin="round" />
<polygon points="218.2,692.9 219.7,690.5 221.3,688.1 222.2,688.7 220.7,691.1 219.2,693.5" fill="#6f6f6f" stroke="none" stroke-width="0" stroke-linejoin="round" />
<polygon points="218.9,677.3 222.3,672.3 225.8,667.3 229.5,662.4 243.5,673 240.1,677.6 236.9,682.2 233.7,687" fill="#bababa" stroke="none" stroke-width="0" stroke-linejoin="round" />
<polygon points="229.7,684.3 232.9,679.5 236.2,674.8 239.7,670.1 243.5,673 240.1,677.6 236.9,682.2 233.7,687" fill="#8c8c8c" stroke="none" stroke-width="0" stroke-linejoin="round" />
<polygon points="227.1,665.6 228.4,663.8 229.7,662.1 243.7,672.8 242.5,674.4 241.3,676" fill="#929292" stroke="none" stroke-width="0" stroke-linejoin="round" />
<polygon points="219.7,677.5 221.1,675.4 222.5,673.2 231.6,679.4 230.2,681.4 228.9,683.5" fill="#d6d6d6" stroke="none" stroke-width="0" stroke-linejoin="round" />
<polygon points="226.5,675.4 228.1,673.1 229.8,670.7 230.7,671.4 229,673.7 227.4,676.1" fill="#6f6f6f" stroke="none" stroke-width="0" stroke-linejoin="round" />
<polygon points="228.6,676.9 230.2,674.5 231.9,672.2 232.8,672.9 231.1,675.2 229.5,677.5" fill="#6f6f6f" stroke="none" stroke-width="0" stroke-linejoin="round" />
<polygon points="230.3,661.3 234,656.7 237.7,652.2 241.4,647.8 254.8,658.6 251.2,663.1 247.7,667.6 244.3,672" fill="#bababa" stroke="none" stroke-width="0" stroke-linejoin="round" />
<polygon points="240.5,669.1 243.9,664.6 247.5,660.1 251.1,655.6 254.8,658.6 251.2,663.1 247.7,667.6 244.3,672" fill="#8c8c8c" stroke="none" stroke-width="0" stroke-linejoin="round" />
<polygon points="238.9,650.7 240.3,649.1 241.6,647.6 254.9,658.4 253.7,660 252.4,661.6" fill="#929292" stroke="none" stroke-width="0" stroke-linejoin="round" />
<polygon points="231.1,661.5 232.6,659.6 234.2,657.7 242.7,664.4 241.2,666.3 239.7,668.2" fill="#d6d6d6" stroke="none" stroke-width="0" stroke-linejoin="round" />
<polygon points="237.9,660.1 239.6,657.9 241.4,655.8 242.3,656.5 240.5,658.6 238.8,660.8" fill="#6f6f6f" stroke="none" stroke-width="0" stroke-linejoin="round" />
<polygon points="239.9,661.7 241.6,659.5 243.4,657.4 244.2,658.1 242.5,660.2 240.7,662.4" fill="#6f6f6f" stroke="none" stroke-width="0" stroke-linejoin="round" />
<polygon points="242.2,646.8 245.5,642.8 249,638.6 252.5,634.5 265.2,645.1 262.1,649.1 258.9,653.3 255.6,657.6" fill="#b7b7b7" stroke="none" stroke-width="0" stroke-linejoin="round" />
<polygon points="251.9,654.6 255.2,650.4 258.5,646.3 261.7,642.2 265.2,645.1 262.1,649.1 258.9,653.3 255.6,657.6" fill="#8b8b8b" stroke="none" stroke-width="0" stroke-linejoin="round" />
<polygon points="250.2,637.2 251.4,635.7 252.7,634.2 265.4,644.9 264.3,646.3 263.1,647.7" fill="#909090" stroke="none" stroke-width="0" stroke-linejoin="round" />
<polygon points="242.9,647.1 244.3,645.4 245.7,643.7 254,650.2 252.6,652 251.2,653.8" fill="#d2d2d2" stroke="none" stroke-width="0" stroke-linejoin="round" />
<polygon points="249.3,646.1 250.9,644.1 252.6,642.1 253.4,642.7 251.8,644.8 250.2,646.8" fill="#6f6f6f" stroke="none" stroke-width="0" stroke-linejoin="round" />
<polygon points="251.2,647.6 252.9,645.6 254.5,643.6 255.3,644.3 253.7,646.3 252.1,648.3" fill="#6f6f6f" stroke="none" stroke-width="0" stroke-linejoin="round" />
<polygon points="253.4,633.5 256.8,629.9 260.6,626.3 264.5,623.1 274.4,634.7 271.4,637.7 268.7,640.8 265.9,644.2" fill="#acacac" stroke="none" stroke-width="0" stroke-linejoin="round" />
<polygon points="262.5,641.2 265.4,637.8 268.5,634.6 271.7,631.5 274.4,634.7 271.4,637.7 268.7,640.8 265.9,644.2" fill="#878787" stroke="none" stroke-width="0" stroke-linejoin="round" />
<polygon points="261.9,625.2 263.3,624.1 264.8,622.9 274.6,634.5 273.5,635.6 272.4,636.6" fill="#8c8c8c" stroke="none" stroke-width="0" stroke-linejoin="round" />
<polygon points="254.1,633.8 255.5,632.3 256.9,630.8 264.3,637.5 263,639 261.8,640.4" fill="#c4c4c4" stroke="none" stroke-width="0" stroke-linejoin="round" />
<polygon points="260.1,633.3 261.8,631.6 263.5,630 264.2,630.7 262.5,632.3 260.9,634" fill="#6f6f6f" stroke="none" stroke-width="0" stroke-linejoin="round" />
<polygon points="261.9,634.9 263.5,633.2 265.1,631.6 265.8,632.3 264.2,633.9 262.6,635.6" fill="#6f6f6f" stroke="none" stroke-width="0" stroke-linejoin="round" />
<polygon points="265.5,622.4 269.1,620 273,617.7 277,615.7 283.2,627.3 280.4,629.3 277.7,631.5 275.1,634" fill="#949494" stroke="none" stroke-width="0" stroke-linejoin="round" />
<polygon points="272.4,630.8 275.3,628.4 278.3,626.1 281.5,624.1 283.2,627.3 280.4,629.3 277.7,631.5 275.1,634" fill="#7d7d7d" stroke="none" stroke-width="0" stroke-linejoin="round" />
<polygon points="274.3,617 275.8,616.3 277.2,615.6 283.3,627.2 282.3,627.8 281.3,628.5" fill="#808080" stroke="none" stroke-width="0" stroke-linejoin="round" />
<polygon points="266,622.8 267.5,621.8 269.1,620.7 274.4,627.9 273.2,628.9 271.9,630" fill="#a1a1a1" stroke="none" stroke-width="0" stroke-linejoin="round" />
<polygon points="271.5,623.5 273.1,622.4 274.9,621.3 275.3,622 273.7,623.1 272,624.3" fill="#6f6f6f" stroke="none" stroke-width="0" stroke-linejoin="round" />
<polygon points="272.7,625.2 274.3,624.1 276,623 276.4,623.7 274.8,624.8 273.3,625.9" fill="#6f6f6f" stroke="none" stroke-width="0" stroke-linejoin="round" />
<polygon points="277.9,615.2 282.2,613.6 286.6,612.5 291.2,612 291.7,624.6 288.9,624.9 286.3,625.7 283.8,626.9" fill="#808080" stroke="none" stroke-width="0" stroke-linejoin="round" />
<polygon points="284.1,616.1 285.1,615.8 286.2,615.6 287.5,621.5 286.7,621.7 285.9,622" fill="#a6a6a6" stroke="none" stroke-width="0" stroke-linejoin="round" />
<polygon points="291,614.3 291.7,614.2 292.4,614.2 292.4,622.3 291.9,622.3 291.4,622.3" fill="#626262" stroke="none" stroke-width="0" stroke-linejoin="round" />
<polygon points="292.1,612 296.7,612.2 301.5,613.1 306.2,614.9 299.8,626.5 297.6,625.4 295.1,624.7 292.3,624.5" fill="#818181" stroke="none" stroke-width="0" stroke-linejoin="round" />
<polygon points="297.4,615.2 298.5,615.4 299.6,615.7 298,621.7 297.2,621.5 296.4,621.3" fill="#a7a7a7" stroke="none" stroke-width="0" stroke-linejoin="round" />
<polygon points="304.8,616.8 305.5,617.2 306.1,617.6 301.6,624.8 301.2,624.6 300.8,624.4" fill="#636363" stroke="none" stroke-width="0" stroke-linejoin="round" />
<polygon points="307.3,615.5 311.4,618.4 315.1,622.1 317.9,626.4 304.2,632.6 303.2,630.4 302,628.5 300.3,626.8" fill="#9a9a9a" stroke="none" stroke-width="0" stroke-linejoin="round" />
<polygon points="302.2,623.7 304.6,625.7 306.5,628.1 307.9,630.9 304.2,632.6 303.2,630.4 302,628.5 300.3,626.8" fill="#808080" stroke="none" stroke-width="0" stroke-linejoin="round" />
<polygon points="316.2,623.6 317.2,625.2 318,626.7 304.2,632.8 303.9,631.9 303.6,631.1" fill="#838383" stroke="none" stroke-width="0" stroke-linejoin="round" />
<polygon points="307.1,616.1 308.9,617.2 310.6,618.4 304.9,624.8 303.8,623.9 302.7,623" fill="#ababab" stroke="none" stroke-width="0" stroke-linejoin="round" />
<polygon points="308.5,621.2 310,622.7 311.4,624.3 310.7,624.9 309.3,623.3 307.9,621.9" fill="#6f6f6f" stroke="none" stroke-width="0" stroke-linejoin="round" />
<polygon points="307.1,622.7 308.5,624 309.7,625.5 309,626.1 307.8,624.7 306.5,623.4" fill="#6f6f6f" stroke="none" stroke-width="0" stroke-linejoin="round" />
<polygon points="318.5,627.7 320.2,632.2 321.5,636.6 322.4,641 306.6,643.5 306,639.9 305.3,636.6 304.4,633.4" fill="#b6b6b6" stroke="none" stroke-width="0" stroke-linejoin="round" />
<polygon points="308.3,631.9 309.4,635.4 310.3,639 310.9,642.8 306.6,643.5 306,639.9 305.3,636.6 304.4,633.4" fill="#8a8a8a" stroke="none" stroke-width="0" stroke-linejoin="round" />
<polygon points="321.8,638.2 322.2,639.8 322.4,641.4 306.6,643.8 306.4,642.5 306.2,641.2" fill="#909090" stroke="none" stroke-width="0" stroke-linejoin="round" />
<polygon points="317.9,628 318.7,630 319.4,631.8 310.2,634.6 309.7,633 309.2,631.5" fill="#d1d1d1" stroke="none" stroke-width="0" stroke-linejoin="round" />
<polygon points="315.7,633.2 316.3,635.3 316.8,637.3 315.8,637.5 315.3,635.5 314.8,633.5" fill="#6f6f6f" stroke="none" stroke-width="0" stroke-linejoin="round" />
<polygon points="313.6,633.9 314.1,635.8 314.6,637.8 313.6,638 313.1,636.1 312.6,634.2" fill="#6f6f6f" stroke="none" stroke-width="0" stroke-linejoin="round" />
<polygon points="322.6,642.4 323.2,647 323.6,651.6 323.8,656.2 307.5,656.7 307.4,652.6 307.1,648.6 306.7,644.6" fill="#b9b9b9" stroke="none" stroke-width="0" stroke-linejoin="round" />
<polygon points="311.1,644 311.5,648.2 311.8,652.3 312,656.5 307.5,656.7 307.4,652.6 307.1,648.6 306.7,644.6" fill="#8b8b8b" stroke="none" stroke-width="0" stroke-linejoin="round" />
<polygon points="323.7,653.2 323.8,654.9 323.9,656.5 307.5,657 307.5,655.5 307.4,654.1" fill="#919191" stroke="none" stroke-width="0" stroke-linejoin="round" />
<polygon points="321.9,642.6 322.2,644.6 322.4,646.5 312.5,647.5 312.3,645.7 312.1,643.9" fill="#d5d5d5" stroke="none" stroke-width="0" stroke-linejoin="round" />
<polygon points="318.4,647.2 318.6,649.4 318.8,651.6 317.7,651.6 317.6,649.5 317.4,647.3" fill="#6f6f6f" stroke="none" stroke-width="0" stroke-linejoin="round" />
<polygon points="316.1,647.4 316.3,649.6 316.4,651.7 315.4,651.8 315.2,649.7 315,647.6" fill="#6f6f6f" stroke="none" stroke-width="0" stroke-linejoin="round" />
<polygon points="323.9,657.5 324,662 324,666.4 324,670.8 307.6,670.8 307.6,666.4 307.6,662.1 307.6,657.9" fill="#bababa" stroke="none" stroke-width="0" stroke-linejoin="round" />
<polygon points="312,657.8 312.1,662.1 312.1,666.4 312.1,670.8 307.6,670.8 307.6,666.4 307.6,662.1 307.6,657.9" fill="#8c8c8c" stroke="none" stroke-width="0" stroke-linejoin="round" />
<polygon points="324,668 324,669.6 324,671.2 307.6,671.1 307.6,669.5 307.6,668" fill="#929292" stroke="none" stroke-width="0" stroke-linejoin="round" />
<polygon points="323.2,657.6 323.2,659.5 323.3,661.4 313.1,661.5 313.1,659.7 313.1,657.8" fill="#d6d6d6" stroke="none" stroke-width="0" stroke-linejoin="round" />
<polygon points="319.1,661.8 319.1,664 319.2,666.1 318.1,666.1 318.1,664 318.1,661.8" fill="#6f6f6f" stroke="none" stroke-width="0" stroke-linejoin="round" />
<polygon points="316.8,661.8 316.8,664 316.8,666.1 315.7,666.1 315.7,664 315.7,661.8" fill="#6f6f6f" stroke="none" stroke-width="0" stroke-linejoin="round" />
<polygon points="324,672.1 323.9,676.5 323.9,680.8 323.9,685.1 307.6,685.2 307.6,680.8 307.6,676.4 307.6,672.1" fill="#bababa" stroke="none" stroke-width="0" stroke-linejoin="round" />
<polygon points="312.1,672.1 312.1,676.4 312,680.8 312.1,685.2 307.6,685.2 307.6,680.8 307.6,676.4 307.6,672.1" fill="#8c8c8c" stroke="none" stroke-width="0" stroke-linejoin="round" />
<polygon points="323.9,682.4 323.9,683.9 323.9,685.5 307.6,685.6 307.6,683.9 307.6,682.3" fill="#929292" stroke="none" stroke-width="0" stroke-linejoin="round" />
<polygon points="323.3,672.2 323.2,674.1 323.2,675.9 313.1,675.9 313.1,674 313.1,672.2" fill="#d6d6d6" stroke="none" stroke-width="0" stroke-linejoin="round" />
<polygon points="319.1,676.2 319.1,678.4 319.1,680.5 318,680.5 318,678.3 318,676.2" fill="#6f6f6f" stroke="none" stroke-width="0" stroke-linejoin="round" />
<polygon points="316.7,676.2 316.7,678.3 316.7,680.5 315.7,680.5 315.7,678.3 315.7,676.2" fill="#6f6f6f" stroke="none" stroke-width="0" stroke-linejoin="round" />
<polygon points="323.9,686.4 324,690.6 324,694.9 324.1,699.2 308,699.7 307.8,695.3 307.7,691 307.6,686.5" fill="#bababa" stroke="none" stroke-width="0" stroke-linejoin="round" />
<polygon points="312.1,686.5 312.2,690.9 312.3,695.2 312.4,699.6 308,699.7 307.8,695.3 307.7,691 307.6,686.5" fill="#8c8c8c" stroke="none" stroke-width="0" stroke-linejoin="round" />
<polygon points="324.1,696.5 324.1,698 324.1,699.6 308,700.1 307.9,698.5 307.9,696.9" fill="#929292" stroke="none" stroke-width="0" stroke-linejoin="round" />
<polygon points="323.2,686.4 323.2,688.2 323.2,690.1 313.2,690.3 313.1,688.4 313.1,686.5" fill="#d6d6d6" stroke="none" stroke-width="0" stroke-linejoin="round" />
<polygon points="319.1,690.4 319.2,692.6 319.2,694.7 318.2,694.7 318.1,692.6 318.1,690.5" fill="#6f6f6f" stroke="none" stroke-width="0" stroke-linejoin="round" />
<polygon points="316.8,690.5 316.8,692.6 316.9,694.8 315.8,694.8 315.8,692.7 315.7,690.5" fill="#6f6f6f" stroke="none" stroke-width="0" stroke-linejoin="round" />
<polygon points="324.2,700.5 324.3,704.7 324.5,708.9 324.8,713 309,714.6 308.6,710 308.2,705.5 308,701" fill="#bababa" stroke="none" stroke-width="0" stroke-linejoin="round" />
<polygon points="312.4,700.9 312.6,705.3 312.9,709.7 313.3,714.1 309,714.6 308.6,710 308.2,705.5 308,701" fill="#8c8c8c" stroke="none" stroke-width="0" stroke-linejoin="round" />
<polygon points="324.6,710.3 324.7,711.8 324.8,713.3 309.1,715 308.9,713.3 308.7,711.7" fill="#929292" stroke="none" stroke-width="0" stroke-linejoin="round" />
<polygon points="323.5,700.6 323.5,702.4 323.6,704.2 313.6,704.7 313.6,702.8 313.5,700.9" fill="#d6d6d6" stroke="none" stroke-width="0" stroke-linejoin="round" />
<polygon points="319.5,704.7 319.6,706.8 319.8,708.9 318.7,709 318.6,706.8 318.5,704.7" fill="#6f6f6f" stroke="none" stroke-width="0" stroke-linejoin="round" />
<polygon points="317.2,704.8 317.3,706.9 317.4,709.1 316.4,709.1 316.3,707 316.2,704.8" fill="#6f6f6f" stroke="none" stroke-width="0" stroke-linejoin="round" />
<polygon points="324.9,714.2 325.3,718.3 325.8,722.4 326.3,726.5 311.5,729.1 310.6,724.8 309.8,720.4 309.2,715.9" fill="#b7b7b7" stroke="none" stroke-width="0" stroke-linejoin="round" />
<polygon points="313.5,715.4 314.1,719.8 314.8,724.1 315.5,728.4 311.5,729.1 310.6,724.8 309.8,720.4 309.2,715.9" fill="#8a8a8a" stroke="none" stroke-width="0" stroke-linejoin="round" />
<polygon points="326,723.8 326.2,725.3 326.4,726.8 311.6,729.5 311.2,727.9 310.9,726.3" fill="#909090" stroke="none" stroke-width="0" stroke-linejoin="round" />
<polygon points="324.2,714.3 324.4,716.1 324.6,717.8 315,719.1 314.7,717.3 314.5,715.4" fill="#d2d2d2" stroke="none" stroke-width="0" stroke-linejoin="round" />
<polygon points="320.7,718.6 321,720.7 321.2,722.8 320.3,722.9 320,720.8 319.7,718.8" fill="#6f6f6f" stroke="none" stroke-width="0" stroke-linejoin="round" />
<polygon points="318.4,718.9 318.7,721 319,723.1 318.1,723.3 317.7,721.2 317.4,719.1" fill="#6f6f6f" stroke="none" stroke-width="0" stroke-linejoin="round" />
<polygon points="326.5,727.6 327.1,731.6 327.9,735.5 328.7,739.5 314.8,742.9 313.7,738.7 312.7,734.6 311.7,730.4" fill="#adadad" stroke="none" stroke-width="0" stroke-linejoin="round" />
<polygon points="315.8,729.6 316.7,733.7 317.6,737.8 318.6,741.9 314.8,742.9 313.7,738.7 312.7,734.6 311.7,730.4" fill="#878787" stroke="none" stroke-width="0" stroke-linejoin="round" />
<polygon points="328.1,736.9 328.4,738.4 328.7,739.8 314.9,743.2 314.5,741.7 314.1,740.2" fill="#8c8c8c" stroke="none" stroke-width="0" stroke-linejoin="round" />
<polygon points="325.9,727.8 326.1,729.5 326.4,731.2 317.5,733 317.1,731.3 316.8,729.5" fill="#c4c4c4" stroke="none" stroke-width="0" stroke-linejoin="round" />
<polygon points="322.8,732.2 323.2,734.2 323.6,736.2 322.7,736.4 322.3,734.4 321.9,732.4" fill="#6f6f6f" stroke="none" stroke-width="0" stroke-linejoin="round" />
<polygon points="320.7,732.7 321.1,734.7 321.6,736.6 320.7,736.9 320.2,734.9 319.8,732.9" fill="#6f6f6f" stroke="none" stroke-width="0" stroke-linejoin="round" />
<polygon points="328.9,740.5 329.7,744.2 330.6,747.9 331.6,751.5 318.8,755.6 317.5,751.7 316.3,747.9 315.2,744" fill="#a2a2a2" stroke="none" stroke-width="0" stroke-linejoin="round" />
<polygon points="318.9,743 320,746.9 321.1,750.7 322.3,754.5 318.8,755.6 317.5,751.7 316.3,747.9 315.2,744" fill="#828282" stroke="none" stroke-width="0" stroke-linejoin="round" />
<polygon points="331,749.2 331.3,750.5 331.7,751.8 318.9,755.9 318.4,754.5 317.9,753.1" fill="#878787" stroke="none" stroke-width="0" stroke-linejoin="round" />
<polygon points="328.3,740.8 328.7,742.4 329,743.9 320.7,746.2 320.3,744.5 319.8,742.9" fill="#b5b5b5" stroke="none" stroke-width="0" stroke-linejoin="round" />
<polygon points="325.7,745.1 326.2,746.9 326.7,748.8 325.8,749 325.3,747.2 324.8,745.3" fill="#6f6f6f" stroke="none" stroke-width="0" stroke-linejoin="round" />
<polygon points="323.7,745.6 324.2,747.5 324.8,749.3 323.9,749.6 323.4,747.7 322.9,745.9" fill="#6f6f6f" stroke="none" stroke-width="0" stroke-linejoin="round" />
<polygon points="331.9,752.5 332.9,755.8 334,759.1 335.2,762.2 323.7,767.5 322,763.9 320.5,760.2 319.1,756.6" fill="#959595" stroke="none" stroke-width="0" stroke-linejoin="round" />
<polygon points="322.6,755.4 323.9,759 325.3,762.5 326.8,766 323.7,767.5 322,763.9 320.5,760.2 319.1,756.6" fill="#7e7e7e" stroke="none" stroke-width="0" stroke-linejoin="round" />
<polygon points="334.4,760.2 334.8,761.3 335.3,762.4 323.8,767.7 323.1,766.4 322.5,765.1" fill="#818181" stroke="none" stroke-width="0" stroke-linejoin="round" />
<polygon points="331.3,752.8 331.8,754.2 332.2,755.6 324.5,758.3 324,756.8 323.5,755.3" fill="#a3a3a3" stroke="none" stroke-width="0" stroke-linejoin="round" />
<polygon points="329.1,756.9 329.7,758.6 330.3,760.2 329.5,760.5 328.9,758.9 328.3,757.2" fill="#6f6f6f" stroke="none" stroke-width="0" stroke-linejoin="round" />
<polygon points="327.3,757.6 327.9,759.3 328.6,760.9 327.8,761.2 327.2,759.5 326.5,757.9" fill="#6f6f6f" stroke="none" stroke-width="0" stroke-linejoin="round" />
<polygon points="335.5,762.9 337,766 338.6,769.1 340.4,772.2 330.1,778.5 328,775.3 326,771.9 324.1,768.4" fill="#858585" stroke="none" stroke-width="0" stroke-linejoin="round" />
<polygon points="334.8,768.1 335.3,768.9 335.7,769.8 330.6,772.7 330.1,771.9 329.6,771" fill="#ababab" stroke="none" stroke-width="0" stroke-linejoin="round" />
<polygon points="338.5,773.2 338.8,773.7 339,774.2 332.4,778.3 332.1,777.7 331.8,777.2" fill="#676767" stroke="none" stroke-width="0" stroke-linejoin="round" />
<polygon points="340.7,772.8 342.6,775.9 344.6,778.9 346.6,781.8 337.3,788.9 334.9,785.7 332.7,782.5 330.5,779.2" fill="#777777" stroke="none" stroke-width="0" stroke-linejoin="round" />
<polygon points="340.8,778.2 341.3,779 341.8,779.7 337.1,783 336.6,782.2 336,781.4" fill="#9d9d9d" stroke="none" stroke-width="0" stroke-linejoin="round" />
<polygon points="344.8,782.9 345.2,783.3 345.5,783.8 339.6,788.4 339.2,787.9 338.8,787.4" fill="#595959" stroke="none" stroke-width="0" stroke-linejoin="round" />
<polygon points="347,782.3 349.2,785.1 351.6,787.8 354,790.4 345.7,798.5 342.9,795.6 340.3,792.6 337.7,789.4" fill="#707070" stroke="none" stroke-width="0" stroke-linejoin="round" />
<polygon points="347.7,787.5 348.3,788.2 349,788.9 344.8,792.6 344.1,791.9 343.5,791.2" fill="#969696" stroke="none" stroke-width="0" stroke-linejoin="round" />
<polygon points="352.3,791.7 352.7,792.1 353.1,792.5 347.8,797.7 347.4,797.3 346.9,796.9" fill="#525252" stroke="none" stroke-width="0" stroke-linejoin="round" />
<polygon points="354.4,790.8 356.9,793.3 359.6,795.6 362.4,797.8 355.2,807 352.1,804.5 349,801.8 346.1,799" fill="#707070" stroke="none" stroke-width="0" stroke-linejoin="round" />
<polygon points="355.8,795.9 356.5,796.5 357.2,797.1 353.5,801.3 352.8,800.7 352,800" fill="#969696" stroke="none" stroke-width="0" stroke-linejoin="round" />
<polygon points="360.9,799.3 361.3,799.6 361.8,800 357.2,806 356.8,805.6 356.3,805.2" fill="#525252" stroke="none" stroke-width="0" stroke-linejoin="round" />
<polygon points="362.8,798.2 365.7,800.3 368.6,802.2 371.7,804 365.9,814.1 362.5,812.1 359,809.8 355.7,807.4" fill="#707070" stroke="none" stroke-width="0" stroke-linejoin="round" />
<polygon points="364.9,803 365.6,803.5 366.4,804 363.4,808.7 362.6,808.2 361.7,807.6" fill="#969696" stroke="none" stroke-width="0" stroke-linejoin="round" />
<polygon points="370.4,805.7 370.9,805.9 371.4,806.2 367.7,812.8 367.2,812.5 366.7,812.2" fill="#525252" stroke="none" stroke-width="0" stroke-linejoin="round" />
<polygon points="372.2,804.3 375.4,806.1 378.7,807.8 382,809.5 376.7,819.9 373.3,818.1 369.9,816.3 366.5,814.4" fill="#707070" stroke="none" stroke-width="0" stroke-linejoin="round" />
<polygon points="375,808.9 375.8,809.3 376.6,809.8 374,814.7 373.1,814.3 372.3,813.8" fill="#969696" stroke="none" stroke-width="0" stroke-linejoin="round" />
<polygon points="380.8,811.2 381.3,811.5 381.9,811.8 378.5,818.5 377.9,818.2 377.4,817.9" fill="#525252" stroke="none" stroke-width="0" stroke-linejoin="round" />
<polygon points="382.6,809.8 385.9,811.5 389.3,813.2 392.6,814.8 387.6,825.3 384.1,823.6 380.7,821.9 377.3,820.2" fill="#707070" stroke="none" stroke-width="0" stroke-linejoin="round" />
<polygon points="385.5,814.3 386.4,814.8 387.2,815.2 384.8,820.2 383.9,819.8 383,819.4" fill="#969696" stroke="none" stroke-width="0" stroke-linejoin="round" />
<polygon points="391.5,816.5 392,816.8 392.5,817 389.3,823.8 388.8,823.6 388.2,823.3" fill="#525252" stroke="none" stroke-width="0" stroke-linejoin="round" />
<polygon points="393.2,815.1 396.5,816.6 399.9,818.2 403.3,819.7 398.8,830.4 395.2,828.8 391.7,827.2 388.2,825.6" fill="#707070" stroke="none" stroke-width="0" stroke-linejoin="round" />
<polygon points="396.3,819.5 397.1,819.9 398,820.3 395.7,825.4 394.8,825 393.9,824.6" fill="#969696" stroke="none" stroke-width="0" stroke-linejoin="round" />
<polygon points="402.2,821.4 402.8,821.7 403.3,821.9 400.4,828.8 399.9,828.6 399.3,828.3" fill="#525252" stroke="none" stroke-width="0" stroke-linejoin="round" />
<polygon points="403.9,819.9 407.2,821.3 410.7,822.6 414.2,823.8 410.4,834.8 406.7,833.5 403,832.1 399.3,830.6" fill="#707070" stroke="none" stroke-width="0" stroke-linejoin="round" />
<polygon points="407.1,824.1 408,824.4 408.9,824.8 406.9,830 406,829.7 405.1,829.4" fill="#969696" stroke="none" stroke-width="0" stroke-linejoin="round" />
<polygon points="413.2,825.7 413.8,825.9 414.3,826.1 411.9,833.1 411.3,832.9 410.7,832.7" fill="#525252" stroke="none" stroke-width="0" stroke-linejoin="round" />
<polygon points="414.7,824 418.3,825.2 421.8,826.4 425.4,827.6 421.8,838.6 418.2,837.4 414.6,836.2 410.9,835" fill="#707070" stroke="none" stroke-width="0" stroke-linejoin="round" />
<polygon points="418.3,828.1 419.2,828.4 420.1,828.7 418.4,834 417.4,833.7 416.5,833.4" fill="#969696" stroke="none" stroke-width="0" stroke-linejoin="round" />
<polygon points="424.5,829.5 425.1,829.7 425.7,829.9 423.3,836.9 422.8,836.7 422.2,836.5" fill="#525252" stroke="none" stroke-width="0" stroke-linejoin="round" />
<polygon points="426,827.8 429.7,829 433.4,830.3 437,831.6 432.9,842.6 429.4,841.2 425.9,840 422.4,838.8" fill="#707070" stroke="none" stroke-width="0" stroke-linejoin="round" />
<polygon points="429.7,831.9 430.6,832.2 431.6,832.5 429.7,837.8 428.8,837.5 427.9,837.2" fill="#969696" stroke="none" stroke-width="0" stroke-linejoin="round" />
<polygon points="436,833.5 436.6,833.7 437.1,833.8 434.5,841 433.9,840.8 433.3,840.6" fill="#525252" stroke="none" stroke-width="0" stroke-linejoin="round" />
<polygon points="437.6,831.8 441.4,833.1 445.9,835 450.3,838.4 440.4,847.2 439,845.7 436.8,844.3 433.5,842.9" fill="#797979" stroke="none" stroke-width="0" stroke-linejoin="round" />
<polygon points="441.3,836 442.3,836.4 443.3,836.9 440.4,842.3 439.7,841.9 438.9,841.5" fill="#9f9f9f" stroke="none" stroke-width="0" stroke-linejoin="round" />
<polygon points="448.3,839.7 448.9,840.3 449.4,841 442.5,846.1 442.3,845.8 442.1,845.5" fill="#5b5b5b" stroke="none" stroke-width="0" stroke-linejoin="round" />
<polygon points="451.1,839.3 454,844.3 455,849.6 454.5,854.6 440.8,851.8 441,849.9 440.9,848.5 440.6,847.5" fill="#858585" stroke="none" stroke-width="0" stroke-linejoin="round" />
<polygon points="451.3,846.3 451.5,847.5 451.7,848.6 445,849.2 444.9,848.5 444.8,847.9" fill="#ababab" stroke="none" stroke-width="0" stroke-linejoin="round" />
<polygon points="452.1,853.9 452,854.5 451.8,855.2 443,853 443.2,852.6 443.2,852.1" fill="#676767" stroke="none" stroke-width="0" stroke-linejoin="round" />
<polygon points="454.3,855.6 453.1,859.5 451.7,863.1 450,866.7 437.6,860.2 438.9,857.6 439.9,854.9 440.7,852.3" fill="#868686" stroke="none" stroke-width="0" stroke-linejoin="round" />
<polygon points="449.8,859.3 449.4,860.2 449.1,861 442.8,858.5 443.1,857.7 443.4,856.9" fill="#acacac" stroke="none" stroke-width="0" stroke-linejoin="round" />
<polygon points="447.9,865.4 447.6,865.9 447.3,866.4 439.4,862.1 439.7,861.7 439.9,861.2" fill="#686868" stroke="none" stroke-width="0" stroke-linejoin="round" />
<polygon points="449.6,867.5 447.6,870.8 445.4,874 442.9,877 432.4,867.8 434.2,865.6 435.8,863.2 437.3,860.8" fill="#868686" stroke="none" stroke-width="0" stroke-linejoin="round" />
<polygon points="444.4,869.8 443.9,870.6 443.3,871.4 437.8,867.4 438.3,866.7 438.8,866" fill="#acacac" stroke="none" stroke-width="0" stroke-linejoin="round" />
<polygon points="441.1,875.3 440.8,875.7 440.4,876.1 433.7,870.2 434,869.8 434.3,869.3" fill="#686868" stroke="none" stroke-width="0" stroke-linejoin="round" />
<polygon points="442.3,877.6 439.7,880.4 436.6,883.2 432.6,885.9 426.1,874.4 427.8,873 429.8,870.9 431.9,868.4" fill="#838383" stroke="none" stroke-width="0" stroke-linejoin="round" />
<polygon points="436.8,878.8 436,879.5 435.3,880.2 430.9,875.4 431.5,874.8 432,874.2" fill="#a9a9a9" stroke="none" stroke-width="0" stroke-linejoin="round" />
<polygon points="431.6,883.8 430.9,884.2 430.2,884.5 426.8,876.8 427,876.6 427.3,876.4" fill="#656565" stroke="none" stroke-width="0" stroke-linejoin="round" />
<polygon points="431.5,886.5 424.9,887.7 419.3,886.3 415.6,884.6 420,873.8 423.3,874.9 425.1,875 425.9,874.6" fill="#787878" stroke="none" stroke-width="0" stroke-linejoin="round" />
<polygon points="423.7,884.6 422.4,884.4 421.3,884 422.9,878.4 423.7,878.5 424.4,878.6" fill="#9e9e9e" stroke="none" stroke-width="0" stroke-linejoin="round" />
<polygon points="416.6,882.8 416.1,882.6 415.5,882.4 418.3,875.4 418.9,875.6 419.4,875.8" fill="#5a5a5a" stroke="none" stroke-width="0" stroke-linejoin="round" />
<polygon points="415,884.4 411.3,882.8 407.7,881.2 404.2,879.5 409.3,869.1 412.7,870.7 416,872.2 419.3,873.5" fill="#707070" stroke="none" stroke-width="0" stroke-linejoin="round" />
<polygon points="411.5,880 410.6,879.6 409.7,879.2 412.1,874.1 413,874.5 413.8,874.9" fill="#969696" stroke="none" stroke-width="0" stroke-linejoin="round" />
<polygon points="405.4,877.8 404.9,877.5 404.3,877.2 407.6,870.6 408.2,870.8 408.7,871.1" fill="#525252" stroke="none" stroke-width="0" stroke-linejoin="round" />
<polygon points="403.7,879.2 400.3,877.5 396.9,875.8 393.5,874.2 398.5,863.7 402,865.4 405.4,867.2 408.8,868.9" fill="#707070" stroke="none" stroke-width="0" stroke-linejoin="round" />
<polygon points="400.6,874.7 399.8,874.3 398.9,873.9 401.4,868.8 402.3,869.3 403.1,869.7" fill="#969696" stroke="none" stroke-width="0" stroke-linejoin="round" />
<polygon points="394.7,872.5 394.2,872.2 393.6,872 396.8,865.2 397.4,865.5 397.9,865.7" fill="#525252" stroke="none" stroke-width="0" stroke-linejoin="round" />
<polygon points="393,874 389.5,872.4 386.1,870.7 382.8,869.1 387.6,858.6 391.1,860.2 394.6,861.9 398,863.5" fill="#707070" stroke="none" stroke-width="0" stroke-linejoin="round" />
<polygon points="389.9,869.5 389,869.1 388.1,868.7 390.5,863.6 391.4,864 392.3,864.4" fill="#969696" stroke="none" stroke-width="0" stroke-linejoin="round" />
<polygon points="383.9,867.4 383.4,867.1 382.8,866.9 385.9,860.1 386.4,860.3 387,860.6" fill="#525252" stroke="none" stroke-width="0" stroke-linejoin="round" />
<polygon points="382.3,868.9 378.9,867.4 375.4,866 371.9,864.6 376.3,853.8 379.8,855.3 383.4,856.8 387,858.3" fill="#707070" stroke="none" stroke-width="0" stroke-linejoin="round" />
<polygon points="379.1,864.6 378.2,864.2 377.3,863.9 379.5,858.7 380.4,859.1 381.2,859.4" fill="#969696" stroke="none" stroke-width="0" stroke-linejoin="round" />
<polygon points="373,862.8 372.4,862.6 371.9,862.3 374.7,855.4 375.3,855.6 375.8,855.8" fill="#525252" stroke="none" stroke-width="0" stroke-linejoin="round" />
<polygon points="371.4,864.4 367.8,863 364.3,861.6 360.8,860.2 365.2,849.2 368.7,850.7 372.2,852.1 375.8,853.6" fill="#707070" stroke="none" stroke-width="0" stroke-linejoin="round" />
<polygon points="368,860.1 367.1,859.8 366.2,859.4 368.3,854.1 369.2,854.5 370.1,854.9" fill="#969696" stroke="none" stroke-width="0" stroke-linejoin="round" />
<polygon points="361.9,858.3 361.3,858.1 360.7,857.9 363.6,850.8 364.1,851.1 364.7,851.3" fill="#525252" stroke="none" stroke-width="0" stroke-linejoin="round" />
<polygon points="360.3,860 356.7,858.6 353.2,857.2 349.7,855.9 353.9,844.8 357.5,846.2 361.1,847.6 364.6,849" fill="#707070" stroke="none" stroke-width="0" stroke-linejoin="round" />
<polygon points="356.9,855.7 356,855.4 355.1,855 357.2,849.7 358.1,850 359,850.4" fill="#969696" stroke="none" stroke-width="0" stroke-linejoin="round" />
<polygon points="350.7,854 350.2,853.8 349.6,853.6 352.3,846.4 352.9,846.6 353.5,846.9" fill="#525252" stroke="none" stroke-width="0" stroke-linejoin="round" />
<polygon points="349.1,855.7 345.6,854.4 342.1,853.1 338.6,851.9 342.5,840.5 346.2,841.8 349.8,843.2 353.4,844.5" fill="#707070" stroke="none" stroke-width="0" stroke-linejoin="round" />
<polygon points="345.7,851.5 344.8,851.2 343.9,850.8 345.9,845.4 346.8,845.7 347.7,846" fill="#969696" stroke="none" stroke-width="0" stroke-linejoin="round" />
<polygon points="339.6,850 339,849.8 338.5,849.6 340.9,842.2 341.5,842.4 342.1,842.6" fill="#525252" stroke="none" stroke-width="0" stroke-linejoin="round" />
<polygon points="338,851.8 334.6,850.7 331.1,849.7 327.6,848.8 330.5,836.9 334.3,837.9 338.1,839.1 341.9,840.3" fill="#707070" stroke="none" stroke-width="0" stroke-linejoin="round" />
<polygon points="334.5,847.7 333.6,847.5 332.7,847.2 334.3,841.5 335.3,841.8 336.2,842.1" fill="#969696" stroke="none" stroke-width="0" stroke-linejoin="round" />
<polygon points="328.4,846.8 327.8,846.6 327.2,846.5 329.1,838.8 329.7,838.9 330.3,839.1" fill="#525252" stroke="none" stroke-width="0" stroke-linejoin="round" />
<polygon points="327,848.7 323.3,847.9 319.6,847 315.8,846.1 319,834 322.5,834.9 326.2,835.8 329.9,836.7" fill="#747474" stroke="none" stroke-width="0" stroke-linejoin="round" />
<polygon points="323.1,844.9 322.1,844.7 321.2,844.4 322.6,838.6 323.5,838.8 324.4,839" fill="#9a9a9a" stroke="none" stroke-width="0" stroke-linejoin="round" />
<polygon points="316.6,844 316,843.9 315.4,843.7 317.6,835.9 318.1,836.1 318.7,836.2" fill="#565656" stroke="none" stroke-width="0" stroke-linejoin="round" />
<polygon points="315.1,845.9 311.3,844.9 307.6,843.7 303.9,842.5 307.9,830.6 311.4,831.7 314.9,832.8 318.4,833.8" fill="#777777" stroke="none" stroke-width="0" stroke-linejoin="round" />
<polygon points="311.2,841.8 310.3,841.5 309.4,841.2 311.2,835.4 312.1,835.7 313,836" fill="#9d9d9d" stroke="none" stroke-width="0" stroke-linejoin="round" />
<polygon points="304.9,840.5 304.3,840.3 303.7,840.1 306.3,832.4 306.9,832.6 307.5,832.8" fill="#595959" stroke="none" stroke-width="0" stroke-linejoin="round" />
<polygon points="303.3,842.3 299.7,841.1 296.1,839.8 292.5,838.6 296.7,826.7 300.2,827.9 303.8,829.2 307.3,830.4" fill="#787878" stroke="none" stroke-width="0" stroke-linejoin="round" />
<polygon points="299.7,838 298.8,837.7 297.9,837.4 299.9,831.6 300.8,831.9 301.7,832.3" fill="#9e9e9e" stroke="none" stroke-width="0" stroke-linejoin="round" />
<polygon points="293.5,836.6 292.9,836.4 292.4,836.2 295,828.5 295.6,828.7 296.2,828.9" fill="#5a5a5a" stroke="none" stroke-width="0" stroke-linejoin="round" />
<polygon points="291.9,838.4 288.3,837.1 284.8,835.9 281.3,834.7 285.2,822.8 288.8,824 292.4,825.2 296,826.5" fill="#797979" stroke="none" stroke-width="0" stroke-linejoin="round" />
<polygon points="288.4,834.1 287.5,833.8 286.6,833.4 288.6,827.7 289.5,828 290.4,828.3" fill="#9f9f9f" stroke="none" stroke-width="0" stroke-linejoin="round" />
<polygon points="282.2,832.7 281.6,832.5 281.1,832.3 283.6,824.6 284.2,824.8 284.8,825" fill="#5b5b5b" stroke="none" stroke-width="0" stroke-linejoin="round" />
<polygon points="280.6,834.5 277.1,833.3 273.6,832.2 270,831.2 273.6,819.1 277.3,820.2 280.9,821.4 284.6,822.6" fill="#7a7a7a" stroke="none" stroke-width="0" stroke-linejoin="round" />
<polygon points="277.1,830.3 276.2,830 275.3,829.7 277.1,823.9 278,824.2 278.9,824.5" fill="#a0a0a0" stroke="none" stroke-width="0" stroke-linejoin="round" />
<polygon points="270.9,829.1 270.3,828.9 269.8,828.8 272,821 272.6,821.1 273.2,821.3" fill="#5c5c5c" stroke="none" stroke-width="0" stroke-linejoin="round" />
<polygon points="269.4,831 265.8,829.9 262.2,828.9 258.6,828 261.9,815.8 265.6,816.8 269.2,817.9 272.9,818.9" fill="#7b7b7b" stroke="none" stroke-width="0" stroke-linejoin="round" />
<polygon points="265.7,826.9 264.8,826.6 263.9,826.4 265.5,820.5 266.4,820.8 267.4,821" fill="#a1a1a1" stroke="none" stroke-width="0" stroke-linejoin="round" />
<polygon points="259.4,825.9 258.9,825.7 258.3,825.6 260.4,817.7 261,817.9 261.5,818" fill="#5d5d5d" stroke="none" stroke-width="0" stroke-linejoin="round" />
<polygon points="257.9,827.8 254.3,826.8 250.7,825.8 247.1,824.9 250.3,812.7 253.9,813.7 257.5,814.7 261.2,815.6" fill="#7c7c7c" stroke="none" stroke-width="0" stroke-linejoin="round" />
<polygon points="254.2,823.8 253.3,823.5 252.3,823.3 253.9,817.4 254.8,817.6 255.7,817.9" fill="#a2a2a2" stroke="none" stroke-width="0" stroke-linejoin="round" />
<polygon points="247.9,822.8 247.3,822.6 246.7,822.5 248.8,814.7 249.3,814.8 249.9,815" fill="#5e5e5e" stroke="none" stroke-width="0" stroke-linejoin="round" />
<polygon points="246.4,824.7 242.7,823.8 239.1,822.8 235.4,821.8 238.7,809.7 242.3,810.7 245.9,811.6 249.5,812.6" fill="#7e7e7e" stroke="none" stroke-width="0" stroke-linejoin="round" />
<polygon points="242.6,820.7 241.6,820.5 240.7,820.2 242.3,814.3 243.2,814.6 244.1,814.8" fill="#a4a4a4" stroke="none" stroke-width="0" stroke-linejoin="round" />
<polygon points="236.2,819.7 235.7,819.5 235.1,819.4 237.2,811.6 237.8,811.7 238.4,811.9" fill="#606060" stroke="none" stroke-width="0" stroke-linejoin="round" />
<polygon points="234.7,821.6 231.1,820.6 227.5,819.7 223.9,818.8 227.1,806.6 230.7,807.6 234.3,808.5 238,809.5" fill="#7f7f7f" stroke="none" stroke-width="0" stroke-linejoin="round" />
<polygon points="231,817.6 230.1,817.4 229.1,817.1 230.7,811.2 231.6,811.5 232.5,811.7" fill="#a5a5a5" stroke="none" stroke-width="0" stroke-linejoin="round" />
<polygon points="224.7,816.7 224.1,816.5 223.5,816.4 225.6,808.5 226.1,808.7 226.7,808.8" fill="#616161" stroke="none" stroke-width="0" stroke-linejoin="round" />
<polygon points="223.2,818.6 219.6,817.6 215.9,816.7 212.3,815.7 215.7,803.6 219.2,804.6 222.7,805.5 226.3,806.4" fill="#828282" stroke="none" stroke-width="0" stroke-linejoin="round" />
<polygon points="219.4,814.6 218.5,814.4 217.6,814.1 219.1,808.2 220,808.5 221,808.7" fill="#a8a8a8" stroke="none" stroke-width="0" stroke-linejoin="round" />
<polygon points="213.1,813.6 212.5,813.4 211.9,813.2 214.1,805.5 214.7,805.6 215.3,805.8" fill="#646464" stroke="none" stroke-width="0" stroke-linejoin="round" />
<polygon points="211.5,815.4 207.8,814.3 204,813.1 200.3,811.8 204.9,800 208.2,801.3 211.5,802.4 214.9,803.4" fill="#858585" stroke="none" stroke-width="0" stroke-linejoin="round" />
<polygon points="207.7,811.3 206.8,811 205.9,810.7 207.8,804.9 208.7,805.2 209.6,805.5" fill="#ababab" stroke="none" stroke-width="0" stroke-linejoin="round" />
<polygon points="201.3,809.8 200.7,809.5 200.1,809.3 203.2,801.8 203.7,802 204.2,802.2" fill="#676767" stroke="none" stroke-width="0" stroke-linejoin="round" />
<polygon points="199.5,811.4 195.6,809.8 191.7,807.9 188,805.8 195,794.8 197.9,796.7 200.9,798.3 204.2,799.7" fill="#8e8e8e" stroke="none" stroke-width="0" stroke-linejoin="round" />
<polygon points="202.9,802.9 199.5,801.5 196.2,799.8 193.1,797.8 195,794.8 197.9,796.7 200.9,798.3 204.2,799.7" fill="#7b7b7b" stroke="none" stroke-width="0" stroke-linejoin="round" />
<polygon points="190.4,807.2 189.1,806.4 187.8,805.7 194.8,794.7 195.9,795.4 196.9,796.1" fill="#7d7d7d" stroke="none" stroke-width="0" stroke-linejoin="round" />
<polygon points="199.5,810.9 197.9,810.2 196.2,809.5 199.5,802.4 200.9,803 202.4,803.6" fill="#999999" stroke="none" stroke-width="0" stroke-linejoin="round" />
<polygon points="197.3,806.5 195.6,805.6 193.8,804.7 194.2,804 195.9,804.9 197.7,805.7" fill="#6f6f6f" stroke="none" stroke-width="0" stroke-linejoin="round" />
<polygon points="198.1,804.8 196.4,804 194.7,803.1 195.1,802.4 196.8,803.3 198.5,804.1" fill="#6f6f6f" stroke="none" stroke-width="0" stroke-linejoin="round" />
<polygon points="187,805.2 182.9,802.2 179.3,798.5 176.3,794.9 187.9,786.9 189.8,789.9 191.9,792.3 194.3,794.4" fill="#9d9d9d" stroke="none" stroke-width="0" stroke-linejoin="round" />
<polygon points="192.3,797.3 189.4,795 186.9,792.3 184.7,789.1 187.9,786.9 189.8,789.9 191.9,792.3 194.3,794.4" fill="#818181" stroke="none" stroke-width="0" stroke-linejoin="round" />
<polygon points="178.2,797.3 177.1,795.9 176.1,794.6 187.7,786.7 188.4,787.9 189.1,788.9" fill="#848484" stroke="none" stroke-width="0" stroke-linejoin="round" />
<polygon points="187.2,804.6 185.5,803.4 183.8,802.1 189.2,795.9 190.4,797 191.7,798" fill="#aeaeae" stroke="none" stroke-width="0" stroke-linejoin="round" />
<polygon points="185.8,799.4 184.1,797.9 182.6,796.3 183.3,795.7 184.8,797.3 186.3,798.8" fill="#6f6f6f" stroke="none" stroke-width="0" stroke-linejoin="round" />
<polygon points="187,798 185.5,796.5 184.1,795 184.8,794.4 186.2,795.9 187.6,797.3" fill="#6f6f6f" stroke="none" stroke-width="0" stroke-linejoin="round" />
<polygon points="175.6,793.9 173.6,790.9 171.8,787.3 170.6,783.4 185.6,780.7 185.9,782.4 186.4,784.1 187.4,786.1" fill="#a7a7a7" stroke="none" stroke-width="0" stroke-linejoin="round" />
<polygon points="184.1,788.2 182.9,786 182,783.7 181.5,781.5 185.6,780.7 185.9,782.4 186.4,784.1 187.4,786.1" fill="#858585" stroke="none" stroke-width="0" stroke-linejoin="round" />
<polygon points="171.2,785.8 170.8,784.4 170.5,782.9 185.6,780.5 185.7,781.2 185.7,781.8" fill="#898989" stroke="none" stroke-width="0" stroke-linejoin="round" />
<polygon points="176.1,793.6 175.2,792.4 174.4,791.1 182.2,786.8 182.8,787.8 183.4,788.8" fill="#bdbdbd" stroke="none" stroke-width="0" stroke-linejoin="round" />
<polygon points="177.5,789.1 176.7,787.6 176,786 176.9,785.7 177.6,787.2 178.3,788.7" fill="#6f6f6f" stroke="none" stroke-width="0" stroke-linejoin="round" />
<polygon points="179.3,788.1 178.6,786.7 178,785.3 178.9,785 179.5,786.4 180.2,787.7" fill="#6f6f6f" stroke="none" stroke-width="0" stroke-linejoin="round" />
<polygon points="131.2,915.9 159.9,901.4 161,919.7 130.4,935.9" fill="#b4b4b4" stroke="#2b2b2b" stroke-width="0.9" stroke-linejoin="round" />
<polygon points="131.2,915.9 159.9,901.4 157.6,900.2 129,913.6" fill="#555" stroke="#2b2b2b" stroke-width="0.6" stroke-linejoin="round" />
<polygon points="111,935.9 128,909.7 130,945.8" fill="#a4a4a4" stroke="#2b2b2b" stroke-width="0.9" stroke-linejoin="round" />
<polygon points="128,909.7 130,945.8 131.6,944.5 130.2,911.5" fill="#555" stroke="#2b2b2b" stroke-width="0.5" stroke-linejoin="round" />
<text transform="matrix(1.0 -0.5 0.2 1 134.5 929.5)" font-size="11.5" font-style="italic" font-weight="bold" style="fill:#a8a8a8;stroke:#1e1e1e;stroke-width:0.75px">FWD</text>
<rect width="770" height="1064" fill="url(#ht)" style="mix-blend-mode:screen"/>
<polyline points="331,171 183.4,88 183.4,393.4 339,482.2 339,694.5 286,664.3" fill="none" stroke="#1a1a1a" stroke-width="1.1" />
<polyline points="258.5,277.2 88.6,183 88.6,487 246,574.5 246,790 212.3,771.7" fill="none" stroke="#1a1a1a" stroke-width="1.1" />
<text transform="translate(335.3 97) scale(1.27 1)" text-anchor="middle" font-size="13.8">4</text>
<text transform="translate(394.7 127) scale(1.27 1)" text-anchor="middle" font-size="13.8">3</text>
<text transform="translate(280.5 218.6) scale(1.27 1)" text-anchor="middle" font-size="13.8">4</text>
<text transform="translate(239.1 199) scale(1.27 1)" text-anchor="middle" font-size="13.8">4</text>
<text transform="translate(196.2 334.2) scale(1.27 1)" text-anchor="middle" font-size="13.8">4</text>
<text transform="translate(256.5 370.6) scale(1.27 1)" text-anchor="middle" font-size="13.8">3</text>
<text transform="translate(571 238.6) scale(1.27 1)" text-anchor="middle" font-size="13.8">1</text>
<text transform="translate(412.2 446.1) scale(1.27 1)" text-anchor="middle" font-size="13.8">2</text>
<text transform="translate(461.5 468.1) scale(1.27 1)" text-anchor="middle" font-size="13.8">8</text>
<text transform="translate(569.7 542.1) scale(1.27 1)" text-anchor="middle" font-size="13.8">8</text>
<text transform="translate(509 606.2) scale(1.27 1)" text-anchor="middle" font-size="13.8">6</text>
<text transform="translate(472.2 651.6) scale(1.27 1)" text-anchor="middle" font-size="13.8">7</text>
<text transform="translate(169.5 697.3) scale(1.27 1)" text-anchor="middle" font-size="13.8">5</text>
<text transform="translate(526.7 740.2) scale(1.27 1)" text-anchor="middle" font-size="13.8">10</text>
<text transform="translate(568.4 764.4) scale(1.27 1)" text-anchor="middle" font-size="13.8">11</text>
<text transform="translate(268.7 937.3) scale(1.27 1)" text-anchor="middle" font-size="13.8">9</text>
<text transform="translate(90.3 962.4) scale(1.31 1)" font-size="12">B7N1300DW040</text>
<polyline points="331,98 308.7,122.4" fill="none" stroke="#1a1a1a" stroke-width="1.3" />
<polyline points="392,130 384.7,147.3" fill="none" stroke="#1a1a1a" stroke-width="1.3" />
<polyline points="282,206.7 293.7,183.5" fill="none" stroke="#1a1a1a" stroke-width="1.3" />
<polyline points="240.6,201.2 242.3,223.6" fill="none" stroke="#1a1a1a" stroke-width="1.3" />
<polyline points="198.7,320.9 213.7,296" fill="none" stroke="#1a1a1a" stroke-width="1.3" />
<polyline points="272.8,339.6 262.3,359.5" fill="none" stroke="#1a1a1a" stroke-width="1.3" />
<polyline points="567,241 547,269" fill="none" stroke="#1a1a1a" stroke-width="1.3" />
<polyline points="417.2,434.6 433.4,410.9" fill="none" stroke="#1a1a1a" stroke-width="1.3" />
<polyline points="467,468.4 481.2,479.7" fill="none" stroke="#1a1a1a" stroke-width="1.3" />
<polyline points="543.5,519.6 563.5,530.8" fill="none" stroke="#1a1a1a" stroke-width="1.3" />
<polyline points="502,597 488.5,588.4" fill="none" stroke="#1a1a1a" stroke-width="1.3" />
<polyline points="463.5,644.5 436,639" fill="none" stroke="#1a1a1a" stroke-width="1.3" />
<polyline points="175,697.7 199,712.2" fill="none" stroke="#1a1a1a" stroke-width="1.3" />
<polyline points="516,742.4 487.3,763.6" fill="none" stroke="#1a1a1a" stroke-width="1.3" />
<polyline points="561,767.8 539.7,799.7" fill="none" stroke="#1a1a1a" stroke-width="1.3" />
<polyline points="273,922.2 287,884.3" fill="none" stroke="#1a1a1a" stroke-width="1.3" />
<polyline points="320.6,141.8 346,154.8" fill="none" stroke="#1a1a1a" stroke-width="1.3" />
<polyline points="314.9,185.2 326.9,192.2" fill="none" stroke="#1a1a1a" stroke-width="1.3" />
<polyline points="263,244 284.7,256" fill="none" stroke="#1a1a1a" stroke-width="1.3" />
<polyline points="237.4,299.7 253.6,308.4" fill="none" stroke="#1a1a1a" stroke-width="1.3" />
<polyline points="457.3,519 443,539.3" fill="none" stroke="#1a1a1a" stroke-width="1.3" />
<polyline points="506,553.5 492.2,573.5" fill="none" stroke="#1a1a1a" stroke-width="1.3" />
<polyline points="408.6,625 393.6,647" fill="none" stroke="#1a1a1a" stroke-width="1.3" />
</svg>
</body></html>
